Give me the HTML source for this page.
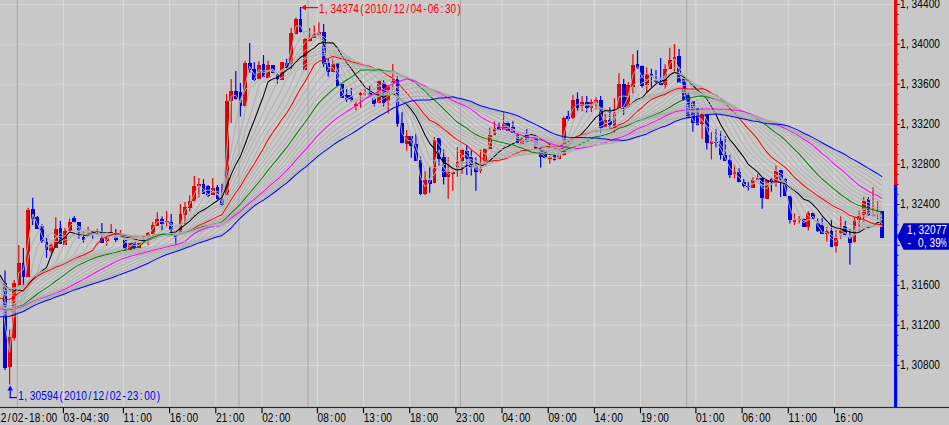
<!DOCTYPE html>
<html lang="en"><head><meta charset="utf-8"><title>EUR/USD 30m chart</title>
<style>html,body{margin:0;padding:0;background:#c8c8c8;overflow:hidden}svg{display:block}text{font-family:"Liberation Sans",sans-serif;font-size:13.3px}.g{stroke:#aeaeae;stroke-width:1;fill:none}.m{fill:none;stroke-width:1.02;stroke-linejoin:round}</style></head><body>
<svg width="949" height="425" viewBox="0 0 949 425">
<defs><linearGradient id="rg" x1="0" x2="1" y1="0" y2="0"><stop offset="0" stop-color="#ff0000"/><stop offset="0.45" stop-color="#f00000"/><stop offset="1" stop-color="#b00000"/></linearGradient><linearGradient id="bg" x1="0" x2="1" y1="0" y2="0"><stop offset="0" stop-color="#0000ff"/><stop offset="0.45" stop-color="#0000f0"/><stop offset="1" stop-color="#0000a8"/></linearGradient></defs>
<rect width="949" height="425" fill="#c8c8c8"/>
<g stroke="#d9d9d9" stroke-width="1.05">
<line x1="0" y1="4.4" x2="894" y2="4.4"/>
<line x1="0" y1="44.2" x2="894" y2="44.2"/>
<line x1="0" y1="84.2" x2="894" y2="84.2"/>
<line x1="0" y1="124.5" x2="894" y2="124.5"/>
<line x1="0" y1="164.3" x2="894" y2="164.3"/>
<line x1="0" y1="204.5" x2="894" y2="204.5"/>
<line x1="0" y1="245.3" x2="894" y2="245.3"/>
<line x1="0" y1="285.4" x2="894" y2="285.4"/>
<line x1="0" y1="325.3" x2="894" y2="325.3"/>
<line x1="0" y1="365.4" x2="894" y2="365.4"/>
<line x1="63.4" y1="0" x2="63.4" y2="407.4"/>
<line x1="123.4" y1="0" x2="123.4" y2="407.4"/>
<line x1="169.6" y1="0" x2="169.6" y2="407.4"/>
<line x1="215.8" y1="0" x2="215.8" y2="407.4"/>
<line x1="262" y1="0" x2="262" y2="407.4"/>
<line x1="317.4" y1="0" x2="317.4" y2="407.4"/>
<line x1="363.5" y1="0" x2="363.5" y2="407.4"/>
<line x1="409.7" y1="0" x2="409.7" y2="407.4"/>
<line x1="455.9" y1="0" x2="455.9" y2="407.4"/>
<line x1="502" y1="0" x2="502" y2="407.4"/>
<line x1="548.2" y1="0" x2="548.2" y2="407.4"/>
<line x1="594.4" y1="0" x2="594.4" y2="407.4"/>
<line x1="640.5" y1="0" x2="640.5" y2="407.4"/>
<line x1="695.9" y1="0" x2="695.9" y2="407.4"/>
<line x1="742.1" y1="0" x2="742.1" y2="407.4"/>
<line x1="788.3" y1="0" x2="788.3" y2="407.4"/>
<line x1="834.5" y1="0" x2="834.5" y2="407.4"/>
</g>
<g stroke="#a9a9a9" stroke-width="1.1">
<line x1="17.3" y1="0" x2="17.3" y2="407.4"/>
<line x1="238.9" y1="0" x2="238.9" y2="407.4"/>
<line x1="308.1" y1="0" x2="308.1" y2="407.4"/>
<line x1="460.5" y1="0" x2="460.5" y2="407.4"/>
<line x1="686.7" y1="0" x2="686.7" y2="407.4"/>
</g>
<path d="M9.6 329.4V384.6M14.2 280V340.7M18.8 245V286.3M28.1 207.7V276.8M51.2 243.3V253.6M55.8 217.2V247.5M65 228V244.5M69.6 218.5V231M88.1 226.8V236M97.3 228.7V234.4M106.6 237V245.8M111.2 224V234M120.4 230V235M129.6 243.2V250.4M138.9 242.3V248.3M143.5 238V243M148.1 232V244.9M152.7 222V234.4M157.3 212.2V225.5M166.6 210.9V226.8M180.4 203.9V232.5M185 202V224.2M189.7 195.2V211.5M194.3 176.1V201.4M198.9 178V197.5M212.7 178V195M226.6 94V195.2M231.2 79.1V123M245.1 60.7V106.4M258.9 61.3V78.5M268.1 60.7V77.8M282 62V79.8M291.2 28V69.6M295.9 17.8V34.3M305.1 38V70.2M309.7 28V41.3M314.3 25.4V38M318.9 22.2V35M332.8 58.8V71.5M355.9 101.4V110.3M360.5 92V107.8M365.1 89V95.4M379 80.6V102.7M388.2 84.8V113.5M392.8 63.9V90.3M406.7 130V150.8M425.1 171V195M434.4 137V183.3M448.2 157.2V198.7M452.8 172.4V190.7M457.4 147V176.8M462.1 149.5V173.7M480.5 149.5V173M485.1 148V165.4M489.8 127.8V148.8M494.4 121.4V134.8M503.6 112V129.7M522.1 138.6V143.7M531.3 139V142M549.8 156V163.8M559 154.5V158.7M563.6 116.4V155M572.9 94.8V118.9M582.1 96V111.3M591.3 99.2V112M596 97.3V109.4M605.2 114V126.7M614.4 98V132.6M619 73.2V108.8M628.3 82.1V106.8M632.9 54V93.5M646.7 67.4V92.9M665.2 64.2V89M669.8 47.7V69.3M674.4 43.9V71.2M702.1 107.4V139.3M711.4 132.3V159.6M734.5 164.5V178.5M752.9 177.2V188M757.6 174V179.8M766.8 180.4V198.7M776 165.2V186.8M794.5 213.4V224.9M799.1 216V223.6M808.3 210.9V230.6M826.8 226.8V241.5M836 229.9V252.6M840.7 216V238.8M854.5 217.2V242.4M859.1 210.2V232.5M863.7 196.9V222.3M873 187.3V216.6M877.6 201.3V219.8" stroke="#f00000" stroke-width="1.2" fill="none"/>
<path d="M5 270.4V370M23.4 248V285.7M32.7 197.8V224.9M37.3 216V229M41.9 224V243M46.5 238V257.7M60.4 221V244M74.2 216V222.3M78.9 222V238.8M83.5 231.2V242.6M92.7 231V238.8M101.9 223V243M115.8 229V242M125 239.8V250.8M134.3 242.3V249.5M162 216.6V230.5M171.2 214V233M175.8 235V244.8M203.5 179.3V194M208.1 185V197M217.4 185V199.4M222 183.8V205.8M235.8 70.9V99.4M240.4 82.9V116.6M249.7 42.9V72.8M254.3 62V81M263.5 55V76.6M272.8 65.1V72.8M277.4 74V83.6M286.6 58.8V68.3M300.5 7V32.4M323.6 24.1V67M328.2 58.8V76.6M337.4 63.2V85.5M342 84.2V97.6M346.6 89.3V102M351.3 88V101.4M369.7 86V95.7M374.3 97.6V106.5M383.6 80.2V106.5M397.4 76.4V126.8M402 112.2V143.2M411.3 136.4V157.8M415.9 133.8V161M420.5 156.5V194.9M429.7 167.3V192.8M439 138.3V165.4M443.6 149.5V184.6M466.7 145.7V175M471.3 150.2V175.6M475.9 157.2V190.7M499 122.7V130.3M508.2 121.4V131M512.9 120.8V132.9M517.5 132.9V143M526.7 129V142.4M535.9 137.3V148.1M540.6 148V167.6M545.2 150V158.3M554.4 155V160.4M568.3 110.7V120.8M577.5 92.2V110.7M586.7 96V112.6M600.6 96V132.6M609.8 107.2V128.8M623.7 78.9V115.1M637.5 50.2V68.7M642.1 65.5V87.7M651.4 68.7V87.2M656 70V83M660.6 57.9V84.6M679.1 49V82.6M683.7 78.2V100.4M688.3 92.2V118.2M692.9 101V131.7M697.5 108V125.3M706.8 113.8V149.5M716 129.2V147.6M720.6 131V159.6M725.2 136.1V160.8M729.8 155.2V177.9M739.1 168.3V182.3M743.7 179.1V187.4M748.3 181.7V190.6M762.2 177.9V208.7M771.4 177.9V191.8M780.6 170.2V196.9M785.3 178.5V196.3M789.9 196.3V223.6M803.7 218.5V226.8M813 212.8V219.1M817.6 218.5V232M822.2 217.9V233.5M831.4 219.8V246.5M845.3 221V235.3M849.9 228.7V264.8M868.4 196.9V216M882.2 210.9V237.7" stroke="#0000f0" stroke-width="1.2" fill="none"/>
<g fill="url(#rg)" shape-rendering="crispEdges"><rect x="7.7" y="337" width="3.8" height="29.5"/><rect x="12.3" y="283" width="3.8" height="55"/><rect x="16.9" y="262.8" width="3.8" height="22.2"/><rect x="26.2" y="210" width="3.8" height="66.8"/><rect x="49.3" y="245" width="3.8" height="6.4"/><rect x="53.9" y="229" width="3.8" height="18.5"/><rect x="63.1" y="231.2" width="3.8" height="13.3"/><rect x="67.7" y="221.7" width="3.8" height="8.9"/><rect x="86.2" y="233.8" width="3.8" height="1.9"/><rect x="95.4" y="232" width="3.8" height="2.4"/><rect x="104.7" y="238.2" width="3.8" height="3.2"/><rect x="109.3" y="231.8" width="3.8" height="2"/><rect x="118.5" y="233.1" width="3.8" height="1.9"/><rect x="127.7" y="243.2" width="3.8" height="7.2"/><rect x="137" y="242.8" width="3.8" height="5.5"/><rect x="141.6" y="239.5" width="3.8" height="1.5"/><rect x="146.2" y="232.6" width="3.8" height="3.1"/><rect x="150.8" y="225" width="3.8" height="9.4"/><rect x="155.4" y="218.5" width="3.8" height="7"/><rect x="164.7" y="221" width="3.8" height="1.5"/><rect x="178.5" y="214" width="3.8" height="18.5"/><rect x="183.1" y="207" width="3.8" height="7.7"/><rect x="187.8" y="201.4" width="3.8" height="6.3"/><rect x="192.4" y="186.3" width="3.8" height="15.1"/><rect x="197" y="184.4" width="3.8" height="1.6"/><rect x="210.8" y="187.6" width="3.8" height="7"/><rect x="224.7" y="100.7" width="3.8" height="94.5"/><rect x="229.3" y="91.2" width="3.8" height="9.8"/><rect x="243.2" y="63.2" width="3.8" height="43.2"/><rect x="257" y="65.1" width="3.8" height="13.4"/><rect x="266.2" y="65.1" width="3.8" height="12.7"/><rect x="280.1" y="62" width="3.8" height="17.8"/><rect x="289.3" y="33" width="3.8" height="30.9"/><rect x="294" y="19.1" width="3.8" height="15.2"/><rect x="303.2" y="39.4" width="3.8" height="30.8"/><rect x="307.8" y="38" width="3.8" height="3.3"/><rect x="312.4" y="33.7" width="3.8" height="4.3"/><rect x="317" y="32.4" width="3.8" height="2.6"/><rect x="330.9" y="63.9" width="3.8" height="7.6"/><rect x="354" y="104" width="3.8" height="2"/><rect x="358.6" y="93" width="3.8" height="2"/><rect x="363.2" y="93" width="3.8" height="1"/><rect x="377.1" y="80.6" width="3.8" height="22.1"/><rect x="386.3" y="84.8" width="3.8" height="16.6"/><rect x="390.9" y="80.6" width="3.8" height="2.1"/><rect x="404.8" y="136.4" width="3.8" height="7.4"/><rect x="423.2" y="180" width="3.8" height="13.6"/><rect x="432.5" y="140.2" width="3.8" height="43.1"/><rect x="446.3" y="171.8" width="3.8" height="4.7"/><rect x="450.9" y="172.4" width="3.8" height="1.6"/><rect x="455.5" y="161.6" width="3.8" height="5.7"/><rect x="460.2" y="150.2" width="3.8" height="10.8"/><rect x="478.6" y="168.6" width="3.8" height="2.5"/><rect x="483.2" y="148.9" width="3.8" height="16.5"/><rect x="487.9" y="135.4" width="3.8" height="13.4"/><rect x="492.5" y="128.4" width="3.8" height="6.4"/><rect x="501.7" y="122.7" width="3.8" height="7"/><rect x="520.2" y="138.6" width="3.8" height="5.1"/><rect x="529.4" y="140" width="3.8" height="1.5"/><rect x="547.9" y="156.5" width="3.8" height="2"/><rect x="557.1" y="155" width="3.8" height="3.7"/><rect x="561.7" y="117.6" width="3.8" height="37.4"/><rect x="571" y="99.9" width="3.8" height="18.4"/><rect x="580.2" y="101.8" width="3.8" height="4.2"/><rect x="589.4" y="101.8" width="3.8" height="6.2"/><rect x="594.1" y="99.9" width="3.8" height="3.1"/><rect x="603.3" y="119.9" width="3.8" height="6.8"/><rect x="612.5" y="109.4" width="3.8" height="18.1"/><rect x="617.1" y="84" width="3.8" height="24.8"/><rect x="626.4" y="85.2" width="3.8" height="21.6"/><rect x="631" y="64.9" width="3.8" height="21.6"/><rect x="644.8" y="74.4" width="3.8" height="10.8"/><rect x="663.3" y="68.7" width="3.8" height="16.5"/><rect x="667.9" y="59.8" width="3.8" height="9.5"/><rect x="672.5" y="57.2" width="3.8" height="2.6"/><rect x="700.2" y="113.8" width="3.8" height="9.9"/><rect x="709.5" y="141.2" width="3.8" height="3.2"/><rect x="732.6" y="172.2" width="3.8" height="1.8"/><rect x="751" y="180.4" width="3.8" height="7.6"/><rect x="755.7" y="177.9" width="3.8" height="1.9"/><rect x="764.9" y="180.4" width="3.8" height="18.3"/><rect x="774.1" y="170.9" width="3.8" height="10.1"/><rect x="792.6" y="219.8" width="3.8" height="1.9"/><rect x="797.2" y="218.5" width="3.8" height="1"/><rect x="806.4" y="213.4" width="3.8" height="13.4"/><rect x="824.9" y="231.2" width="3.8" height="3.2"/><rect x="834.1" y="237.5" width="3.8" height="8"/><rect x="838.8" y="229.9" width="3.8" height="3.2"/><rect x="852.6" y="220.4" width="3.8" height="22"/><rect x="857.2" y="216" width="3.8" height="4.4"/><rect x="861.8" y="200.7" width="3.8" height="14"/><rect x="871.1" y="215" width="3.8" height="1.3"/><rect x="875.7" y="210.9" width="3.8" height="1.1"/></g>
<g fill="url(#bg)" shape-rendering="crispEdges"><rect x="3.1" y="283" width="3.8" height="85"/><rect x="21.5" y="262.8" width="3.8" height="14"/><rect x="30.8" y="209" width="3.8" height="9.5"/><rect x="35.4" y="216.6" width="3.8" height="12.1"/><rect x="40" y="226" width="3.8" height="15.4"/><rect x="44.6" y="242" width="3.8" height="8"/><rect x="58.5" y="228" width="3.8" height="16"/><rect x="72.3" y="217.9" width="3.8" height="4.4"/><rect x="77" y="222" width="3.8" height="9.2"/><rect x="81.6" y="237" width="3.8" height="2.5"/><rect x="90.8" y="231.2" width="3.8" height="1.9"/><rect x="100" y="238" width="3.8" height="4.6"/><rect x="113.9" y="232.5" width="3.8" height="7"/><rect x="123.1" y="239.8" width="3.8" height="8.9"/><rect x="132.4" y="242.3" width="3.8" height="5.5"/><rect x="160.1" y="218.5" width="3.8" height="5.5"/><rect x="169.3" y="222.3" width="3.8" height="8"/><rect x="173.9" y="235.5" width="3.8" height="1.8"/><rect x="201.6" y="184.4" width="3.8" height="9.5"/><rect x="206.2" y="185.7" width="3.8" height="10.1"/><rect x="215.5" y="186.9" width="3.8" height="12.5"/><rect x="220.1" y="199" width="3.8" height="6"/><rect x="233.9" y="91.2" width="3.8" height="8.2"/><rect x="238.5" y="91.8" width="3.8" height="14.6"/><rect x="247.8" y="63.2" width="3.8" height="6.4"/><rect x="252.4" y="69" width="3.8" height="10.8"/><rect x="261.6" y="63.9" width="3.8" height="12.7"/><rect x="270.9" y="65.1" width="3.8" height="7.7"/><rect x="275.5" y="74" width="3.8" height="5.1"/><rect x="284.7" y="62.6" width="3.8" height="5.7"/><rect x="298.6" y="19.1" width="3.8" height="13.3"/><rect x="321.7" y="31.8" width="3.8" height="31.7"/><rect x="326.3" y="62.6" width="3.8" height="8.9"/><rect x="335.5" y="63.2" width="3.8" height="22.3"/><rect x="340.1" y="84.2" width="3.8" height="13.4"/><rect x="344.7" y="95" width="3.8" height="5"/><rect x="349.4" y="95" width="3.8" height="5"/><rect x="367.8" y="92.5" width="3.8" height="2.5"/><rect x="372.4" y="98" width="3.8" height="6"/><rect x="381.7" y="82.7" width="3.8" height="20.3"/><rect x="395.5" y="79.3" width="3.8" height="44.4"/><rect x="400.1" y="123" width="3.8" height="20.2"/><rect x="409.4" y="136.4" width="3.8" height="9.3"/><rect x="414" y="143.8" width="3.8" height="17.2"/><rect x="418.6" y="160.3" width="3.8" height="33.3"/><rect x="427.8" y="180" width="3.8" height="4.4"/><rect x="437.1" y="138.3" width="3.8" height="20.7"/><rect x="441.7" y="156.5" width="3.8" height="20.2"/><rect x="464.8" y="150.8" width="3.8" height="8.2"/><rect x="469.4" y="156.5" width="3.8" height="10.8"/><rect x="474" y="166" width="3.8" height="5.8"/><rect x="497.1" y="126.5" width="3.8" height="3.8"/><rect x="506.3" y="122.7" width="3.8" height="8.3"/><rect x="511" y="126.5" width="3.8" height="6.4"/><rect x="515.6" y="132.9" width="3.8" height="10.1"/><rect x="524.8" y="134.8" width="3.8" height="7.6"/><rect x="534" y="137.3" width="3.8" height="10.8"/><rect x="538.7" y="148" width="3.8" height="8.6"/><rect x="543.3" y="150" width="3.8" height="8.3"/><rect x="552.5" y="155.3" width="3.8" height="5.1"/><rect x="566.4" y="115.7" width="3.8" height="3.2"/><rect x="575.6" y="99.2" width="3.8" height="8.9"/><rect x="584.8" y="101.8" width="3.8" height="6.3"/><rect x="598.7" y="99.9" width="3.8" height="27.6"/><rect x="607.9" y="119.9" width="3.8" height="4.7"/><rect x="621.8" y="84" width="3.8" height="24.1"/><rect x="635.6" y="64.2" width="3.8" height="4.5"/><rect x="640.2" y="65.5" width="3.8" height="20.3"/><rect x="649.5" y="73.8" width="3.8" height="3.1"/><rect x="654.1" y="80" width="3.8" height="2"/><rect x="658.7" y="82.6" width="3.8" height="2"/><rect x="677.2" y="56" width="3.8" height="26.6"/><rect x="681.8" y="78.8" width="3.8" height="21.6"/><rect x="686.4" y="94" width="3.8" height="24.2"/><rect x="691" y="101" width="3.8" height="21.8"/><rect x="695.6" y="108" width="3.8" height="17.3"/><rect x="704.9" y="113.8" width="3.8" height="28.7"/><rect x="714.1" y="141.5" width="3.8" height="1"/><rect x="718.7" y="141.2" width="3.8" height="14"/><rect x="723.3" y="154.6" width="3.8" height="6.2"/><rect x="727.9" y="159.5" width="3.8" height="15.2"/><rect x="737.2" y="172.2" width="3.8" height="10.1"/><rect x="741.8" y="182.3" width="3.8" height="3.2"/><rect x="746.4" y="185.5" width="3.8" height="1.9"/><rect x="760.3" y="177.9" width="3.8" height="19.8"/><rect x="769.5" y="179.1" width="3.8" height="2.6"/><rect x="778.7" y="170.2" width="3.8" height="9.6"/><rect x="783.4" y="178.5" width="3.8" height="17.8"/><rect x="788" y="196.3" width="3.8" height="23.5"/><rect x="801.8" y="218.5" width="3.8" height="8.3"/><rect x="811.1" y="212.8" width="3.8" height="6.3"/><rect x="815.7" y="223" width="3.8" height="8"/><rect x="820.3" y="224.9" width="3.8" height="8.6"/><rect x="829.5" y="230.6" width="3.8" height="15.9"/><rect x="843.4" y="226.1" width="3.8" height="9.2"/><rect x="848" y="235.8" width="3.8" height="6.7"/><rect x="866.5" y="198.8" width="3.8" height="17.2"/><rect x="880.3" y="210.9" width="3.8" height="26.8"/></g>
<path class="g" d="M-4.3 277.4L0.4 280.1L5 324.7L9.6 352.5L14.2 310L18.8 272.9L23.4 269.8L28.1 243.4L32.7 214.2L37.3 223.6L41.9 235.1L46.5 245.7L51.2 247.5L55.8 237L60.4 236.5L65 237.6L69.6 226.5L74.2 222L78.9 226.8L83.5 235.4L88.1 236.6L92.7 233.4L97.3 232.5L101.9 237.3L106.6 240.4L111.2 235L115.8 235.6L120.4 236.3L125 240.9L129.6 246L134.3 245.5L138.9 245.3L143.5 241.1L148.1 236L152.7 228.8L157.3 221.8L162 221.2L166.6 222.5L171.2 225.6L175.8 233.8L180.4 225.6L185 210.5L189.7 204.2L194.3 193.9L198.9 185.4L203.5 189.2L208.1 194.9L212.7 191.7L217.4 193.5L222 202.2L226.6 152.9L231.2 96L235.8 95.3L240.4 102.9L245.1 84.8L249.7 66.4L254.3 74.7L258.9 72.4L263.5 70.8L268.1 70.8L272.8 68.9L277.4 75.9L282 70.5L286.6 65.1L291.2 50.6L295.9 26L300.5 25.8L305.1 35.9L309.7 38.7L314.3 35.9L318.9 33.1L323.6 48L328.2 67.5L332.8 67.7L337.4 74.7L342 91.5L346.6 98.8L351.3 100L355.9 102L360.5 98.5L365.1 93L369.7 94L374.3 99.5L379 92.3L383.6 91.8L388.2 93.9L392.8 82.7L397.4 102.1L402 133.5L406.7 139.8L411.3 141.1L415.9 153.4L420.5 177.3L425.1 186.8L429.7 182.2L434.4 162.3L439 149.6L443.6 167.8L448.2 174.2L452.8 172.1L457.4 167L462.1 155.9L466.7 154.6L471.3 163.2L475.9 169.6L480.5 170.2L485.1 158.8L489.8 142.2L494.4 131.9L499 129.4L503.6 126.5L508.2 126.8L512.9 132L517.5 138L522.1 140.8L526.7 140.5L531.3 141.2L535.9 144L540.6 152.3L545.2 157.5L549.8 157.4L554.4 158.5L559 157.7L563.6 136.3L568.3 118.2L572.9 109.4L577.5 104L582.1 105L586.7 105L591.3 105L596 100.9L600.6 113.7L605.2 123.7L609.8 122.2L614.4 117L619 96.7L623.7 96L628.3 96.6L632.9 75L637.5 66.8L642.1 77.2L646.7 80.1L651.4 75.7L656 79.5L660.6 83.3L665.2 76.6L669.8 64.2L674.4 58.5L679.1 69.9L683.7 91.5L688.3 109.3L692.9 120.5L697.5 124.1L702.1 119.6L706.8 128.2L711.4 141.8L716 141.8L720.6 148.8L725.2 158L729.8 167.8L734.5 173.4L739.1 177.2L743.7 183.9L748.3 186.5L752.9 183.9L757.6 179.2L762.2 187.8L766.8 189L771.4 181L776 176.3L780.6 175.4L785.3 188.1L789.9 208.1L794.5 219.8L799.1 219.2L803.7 222.7L808.3 220.1L813 216.2L817.6 225L822.2 232.2L826.8 232.3L831.4 238.8L836 242L840.7 233.7L845.3 232.6L849.9 238.9L854.5 231.5L859.1 218.2L863.7 208.3L868.4 208.3L873 215.5L877.6 213L882.2 224.3"/>
<path class="g" d="M-4.3 274.6L0.4 277.3L5 301.1L9.6 316.3L14.2 317.4L18.8 312.7L23.4 289.9L28.1 258.1L32.7 242L37.3 233.5L41.9 224.7L46.5 234.7L51.2 241.3L55.8 241.4L60.4 242L65 237.3L69.6 231.5L74.2 229.8L78.9 226.6L83.5 228.7L88.1 231.7L92.7 234.4L97.3 234.6L101.9 235.4L106.6 236.5L111.2 236.1L115.8 238L120.4 235.6L125 238.3L129.6 241.1L134.3 243.2L138.9 245.6L143.5 243.3L148.1 240.7L152.7 235L157.3 228.9L162 225L166.6 222.1L171.2 223.4L175.8 228.1L180.4 225.6L185 222.1L189.7 214.9L194.3 202.2L198.9 194.8L203.5 191.5L208.1 190.1L212.7 190.4L217.4 194.2L222 196.9L226.6 173.2L231.2 149.1L235.8 124.1L240.4 99.4L245.1 90.1L249.7 84.7L254.3 79.8L258.9 69.4L263.5 72.8L268.1 71.6L272.8 69.9L277.4 73.4L282 69.7L286.6 70.5L291.2 60.6L295.9 45.6L300.5 38.2L305.1 31L309.7 32.2L314.3 35.9L318.9 35.9L323.6 41.9L328.2 50.3L332.8 57.8L337.4 71.1L342 79.6L346.6 86.8L351.3 95.8L355.9 100.4L360.5 99.2L365.1 97.5L369.7 96.2L374.3 96.2L379 93.1L383.6 95.6L388.2 93.1L392.8 87.2L397.4 98L402 108.1L406.7 121L411.3 137.3L415.9 146.6L420.5 159.2L425.1 170.1L429.7 179.8L434.4 174.5L439 165.9L443.6 165.1L448.2 161.9L452.8 170L457.4 170.6L462.1 164L466.7 160.8L471.3 159.5L475.9 162.1L480.5 166.7L485.1 164.2L489.8 156.2L494.4 145.3L499 135.8L503.6 129.2L508.2 128.1L512.9 129.2L517.5 132.4L522.1 136.4L526.7 139.2L531.3 141L535.9 142.3L540.6 146.8L545.2 150.8L549.8 154.9L554.4 158L559 157.6L563.6 147.4L568.3 138L572.9 122.9L577.5 111.1L582.1 107.2L586.7 104.5L591.3 105L596 102.9L600.6 109.3L605.2 112.3L609.8 118L614.4 120.4L619 109.5L623.7 106.5L628.3 96.7L632.9 85.5L637.5 81.7L642.1 76.1L646.7 73.5L651.4 76.5L656 79.8L660.6 79.5L665.2 78L669.8 73.8L674.4 67.6L679.1 67.1L683.7 75L688.3 89.6L692.9 106L697.5 116.7L702.1 120L706.8 126.1L711.4 130.7L716 135L720.6 145.3L725.2 149.9L729.8 158.3L734.5 165.7L739.1 172.5L743.7 178.7L748.3 181.9L752.9 183.9L757.6 182.8L762.2 185.9L766.8 184.1L771.4 184.4L776 182.7L780.6 178.2L785.3 182.2L789.9 191.7L794.5 203.9L799.1 213.6L803.7 221.2L808.3 219.6L813 219.5L817.6 222.6L822.2 224.2L826.8 228.7L831.4 235.5L836 237.2L840.7 236.3L845.3 237.3L849.9 236.3L854.5 232L859.1 228.6L863.7 219.9L868.4 213.3L873 211.9L877.6 210.6L882.2 219.9"/>
<path class="g" d="M-4.3 273L0.4 274.9L5 291.3L9.6 302.4L14.2 304L18.8 301.8L23.4 301.5L28.1 289.6L32.7 264.7L37.3 246.6L41.9 239.7L46.5 237.6L51.2 232.3L55.8 235.4L60.4 239.7L65 240.1L69.6 236.8L74.2 232.2L78.9 229.9L83.5 231.7L88.1 230L92.7 230.3L97.3 232L101.9 235.4L106.6 236.5L111.2 235.2L115.8 236.2L120.4 236.2L125 239L129.6 239.1L134.3 240.7L138.9 242.5L143.5 242.5L148.1 242.4L152.7 238.5L157.3 234.4L162 230.4L166.6 226.8L171.2 225.2L175.8 226L180.4 224.2L185 222.3L189.7 218.5L194.3 212.7L198.9 205.1L203.5 197.8L208.1 194.8L212.7 191.6L217.4 191.2L222 194.4L226.6 180.4L231.2 163.3L235.8 147.2L240.4 133.7L245.1 111L249.7 88.4L254.3 84.9L258.9 80.6L263.5 76.8L268.1 69.9L272.8 71.5L277.4 73.1L282 70.1L286.6 70.6L291.2 63.4L295.9 55.7L300.5 49L305.1 42.4L309.7 38.4L314.3 32.6L318.9 32.5L323.6 39.9L328.2 46.4L332.8 50.5L337.4 58.4L342 69.1L346.6 80.3L351.3 86.4L355.9 91.8L360.5 96.7L365.1 97.9L369.7 97.5L374.3 98.2L379 94.9L383.6 94.8L388.2 93.4L392.8 91.3L397.4 96.1L402 102.6L406.7 112L411.3 119.1L415.9 131.8L420.5 150.6L425.1 160L429.7 166.9L434.4 167.5L439 169.7L443.6 172.3L448.2 168.7L452.8 167.4L457.4 163.6L462.1 165.3L466.7 165.3L471.3 163.7L475.9 163.7L480.5 163.1L485.1 161L489.8 158.5L494.4 153.4L499 147.2L503.6 139.1L508.2 132.8L512.9 130.1L517.5 131.4L522.1 133.1L526.7 135.1L531.3 138L535.9 140.8L540.6 144.8L545.2 147.3L549.8 150.3L554.4 153.3L559 155.8L563.6 150.7L568.3 144.5L572.9 134.7L577.5 126.7L582.1 116.9L586.7 109.1L591.3 106.4L596 103.3L600.6 107.9L605.2 109.8L609.8 113.6L614.4 113.9L619 110.9L623.7 112.2L628.3 105.2L632.9 96L637.5 86.7L642.1 82.8L646.7 81.2L651.4 76L656 75.5L660.6 78.7L665.2 78.7L669.8 74.4L674.4 71.5L679.1 72.5L683.7 75.5L688.3 81.1L692.9 90.2L697.5 101.1L702.1 110.5L706.8 120.5L711.4 127.3L716 131.4L720.6 136.8L725.2 142.7L729.8 152.8L734.5 157.8L739.1 164.6L743.7 171.8L748.3 177.2L752.9 180.4L757.6 181L762.2 185.2L766.8 184.9L771.4 184.2L776 181.5L780.6 181.4L785.3 184.5L789.9 188.2L794.5 194.7L799.1 200.9L803.7 210.2L808.3 215.8L813 219.6L817.6 221.4L822.2 223.7L826.8 225.8L831.4 229.1L836 233.1L840.7 234.9L845.3 235.7L849.9 237.2L854.5 235.4L859.1 230.3L863.7 224.1L868.4 221.8L873 218.4L877.6 213.2L882.2 216"/>
<path class="g" d="M-4.3 273.7L0.4 274.1L5 285.9L9.6 294.3L14.2 296L18.8 295L23.4 295.5L28.1 287.2L32.7 279.7L37.3 273.1L41.9 257.3L46.5 246.4L51.2 241.7L55.8 237.4L60.4 233.3L65 236L69.6 236.4L74.2 235.6L78.9 234.3L83.5 233L88.1 231.6L92.7 232.1L97.3 230.6L101.9 232L106.6 234.1L111.2 235.3L115.8 236.3L120.4 235.5L125 237.4L129.6 238.6L134.3 240.6L138.9 240.6L143.5 240.8L148.1 240.9L152.7 239.1L157.3 237.3L162 234.2L166.6 231.4L171.2 229.2L175.8 228.5L180.4 225.3L185 222.1L189.7 219.2L194.3 215.2L198.9 210.2L203.5 206.8L208.1 202.5L212.7 196.3L217.4 194.5L222 194.2L226.6 181.6L231.2 169.8L235.8 159.1L240.4 148.2L245.1 131.6L249.7 116.9L254.3 101.9L258.9 84.4L263.5 81.4L268.1 78.1L272.8 74.8L277.4 71.4L282 71.3L286.6 71.1L291.2 65.2L295.9 59.5L300.5 54L305.1 50.8L309.7 46.4L314.3 40.7L318.9 37L323.6 36.4L328.2 41.3L332.8 46.9L337.4 53.5L342 60.8L346.6 68.5L351.3 76.8L355.9 85.8L360.5 89.4L365.1 92.1L369.7 96L374.3 98.3L379 96.2L383.6 96.6L388.2 94.7L392.8 91.7L397.4 95.6L402 101.9L406.7 107L411.3 112.2L415.9 122.3L420.5 133.6L425.1 145.5L429.7 158.5L434.4 160.6L439 162.5L443.6 167.6L448.2 170.8L452.8 172.3L457.4 168.3L462.1 164.5L466.7 161.4L471.3 164.8L475.9 166.4L480.5 165.3L485.1 162.5L489.8 157.9L494.4 153.7L499 151.2L503.6 146.7L508.2 142.1L512.9 137.3L517.5 134.1L522.1 132.8L526.7 133.7L531.3 135.1L535.9 137.3L540.6 141.6L545.2 145L549.8 147.9L554.4 150.1L559 152.2L563.6 149.1L568.3 146.4L572.9 140.4L577.5 134.3L582.1 127.3L586.7 121.2L591.3 113.9L596 107L600.6 108.3L605.2 108.4L609.8 111.5L614.4 111.6L619 109.4L623.7 109.4L628.3 107.3L632.9 102.9L637.5 95.6L642.1 91.3L646.7 85.1L651.4 81L656 80.8L660.6 77.8L665.2 75.8L669.8 75.1L674.4 73.7L679.1 73.3L683.7 76.5L688.3 81.7L692.9 86.8L697.5 91.9L702.1 97.5L706.8 107.9L711.4 118.4L716 125.8L720.6 132.7L725.2 138L729.8 144.5L734.5 150.4L739.1 158.9L743.7 164.3L748.3 170.1L752.9 174.8L757.6 177.7L762.2 182.3L766.8 183L771.4 184.2L776 182.7L780.6 182L785.3 183.1L789.9 188.1L794.5 193.3L799.1 195.9L803.7 201.7L808.3 205.7L813 211.7L817.6 218.1L822.2 222.7L826.8 224.2L831.4 227.5L836 229.9L840.7 230.3L845.3 233L849.9 235.9L854.5 234.6L859.1 232.4L863.7 228.6L868.4 224.8L873 222L877.6 219.6L882.2 219.9"/>
<path class="m" stroke="#000000" d="M-4.3 276.3L0.4 275.4L5 283.9L9.6 289.8L14.2 290.7L18.8 290L23.4 290.7L28.1 284.7L32.7 279.2L37.3 274.5L41.9 270.8L46.5 267.6L51.2 255.3L55.8 244.5L60.4 240.6L65 237.5L69.6 232L74.2 233.2L78.9 234.5L83.5 235.5L88.1 234.8L92.7 233.1L97.3 231.8L101.9 233.1L106.6 232.6L111.2 232.6L115.8 234.4L120.4 235.5L125 237.2L129.6 237.6L134.3 239L138.9 240L143.5 240.7L148.1 239.7L152.7 238.4L157.3 237.1L162 235.5L166.6 234.3L171.2 232.5L175.8 231.9L180.4 228.5L185 224.9L189.7 221.1L194.3 216.5L198.9 212.4L203.5 210L208.1 207.1L212.7 203.8L217.4 200.7L222 197.5L226.6 186.2L231.2 174.6L235.8 164.4L240.4 156.4L245.1 144.3L249.7 131.8L254.3 120.2L258.9 108L263.5 95.7L268.1 81.7L272.8 78.9L277.4 77.7L282 74L286.6 70.2L291.2 67.1L295.9 62.1L300.5 57.3L305.1 54.8L309.7 50.9L314.3 47.8L318.9 43.7L323.6 42.2L328.2 43.1L332.8 42.7L337.4 47.9L342 55.8L346.6 62.6L351.3 68.6L355.9 75.2L360.5 81.1L365.1 87.2L369.7 90.3L374.3 93.6L379 95.3L383.6 97L388.2 95.7L392.8 93.8L397.4 96.2L402 100.1L406.7 104.4L411.3 109.7L415.9 116.3L420.5 125.3L425.1 135.2L429.7 143.3L434.4 148.9L439 156.7L443.6 162L448.2 164.9L452.8 168.5L457.4 170.1L462.1 169L466.7 165.5L471.3 164.3L475.9 163L480.5 165.8L485.1 164.8L489.8 160.7L494.4 156.4L499 152.2L503.6 148.3L508.2 146.3L512.9 143.7L517.5 141.3L522.1 138L526.7 135.4L531.3 134.5L535.9 135.7L540.6 138.6L545.2 141.4L549.8 144.7L554.4 147.7L559 149.9L563.6 147.3L568.3 145.4L572.9 141.1L577.5 137.9L582.1 133.3L586.7 128.5L591.3 122.8L596 117.2L600.6 113.9L605.2 110.4L609.8 111.1L614.4 110.1L619 108.5L623.7 108.5L628.3 106.8L632.9 102.5L637.5 99.2L642.1 97.8L646.7 92.5L651.4 88.2L656 83.9L660.6 81.5L665.2 79.9L669.8 75.1L674.4 72.3L679.1 74.1L683.7 77.2L688.3 80.5L692.9 85.3L697.5 90.2L702.1 93.3L706.8 99.1L711.4 106.4L716 114.7L720.6 124.5L725.2 132.3L729.8 139.7L734.5 145.1L739.1 151.1L743.7 157.1L748.3 164.4L752.9 168.2L757.6 171.9L762.2 177.4L766.8 179.9L771.4 182L776 181.6L780.6 182.4L785.3 183.8L789.9 187.2L794.5 190.5L799.1 194.3L803.7 199.2L808.3 200.7L813 204.6L817.6 209.5L822.2 215.8L826.8 220.9L831.4 226L836 227.7L840.7 228.7L845.3 230.4L849.9 232L854.5 232.7L859.1 232.4L863.7 229.3L868.4 227.6L873 226L877.6 222.4L882.2 222.4"/>
<path class="g" d="M-4.3 280.4L0.4 278.5L5 284.4L9.6 288.3L14.2 288.2L18.8 287L23.4 287.3L28.1 282.2L32.7 278L37.3 274.5L41.9 271.9L46.5 269.7L51.2 266.9L55.8 262.5L60.4 252.2L65 243.4L69.6 238.3L74.2 234.9L78.9 231.1L83.5 233.5L88.1 234.8L92.7 235.2L97.3 234.4L101.9 233.8L106.6 233.2L111.2 233.4L115.8 233.1L120.4 233.2L125 235.5L129.6 237.2L134.3 238.6L138.9 238.9L143.5 239.4L148.1 239.3L152.7 238.7L157.3 236.7L162 235.5L166.6 234.6L171.2 233.9L175.8 234.2L180.4 231.3L185 228.3L189.7 224.4L194.3 219.7L198.9 215.1L203.5 211.9L208.1 209.5L212.7 206.9L217.4 204.9L222 203.5L226.6 192.7L231.2 180.6L235.8 171L240.4 162.6L245.1 151.1L249.7 141.4L254.3 132.7L258.9 121.9L263.5 112L268.1 101.8L272.8 91.2L277.4 80.7L282 77.5L286.6 75.6L291.2 70.1L295.9 62.8L300.5 60.2L305.1 57.7L309.7 54.2L314.3 51.6L318.9 47.9L323.6 47.8L328.2 47.7L332.8 46.4L337.4 48.4L342 50.8L346.6 56.4L351.3 63.2L355.9 69.1L360.5 73.6L365.1 78.2L369.7 83.3L374.3 89.2L379 90.7L383.6 93.3L388.2 95L392.8 94.6L397.4 96.8L402 100.4L406.7 103.4L411.3 106.9L415.9 112.6L420.5 121L425.1 128L429.7 134.8L434.4 139.7L439 144.4L443.6 152L448.2 159.6L452.8 163.7L457.4 165.2L462.1 166.4L466.7 167.5L471.3 168L475.9 166.2L480.5 165.2L485.1 162.3L489.8 161.9L494.4 159.3L499 155.5L503.6 151.4L508.2 147.9L512.9 145.5L517.5 144.9L522.1 143.2L526.7 141.2L531.3 138.5L535.9 136.8L540.6 137.5L545.2 139.4L549.8 141.7L554.4 144.2L559 146.9L563.6 145.8L568.3 144.6L572.9 141L577.5 138.5L582.1 135.1L586.7 132.4L591.3 128.6L596 123.9L600.6 121.3L605.2 118.2L609.8 115.3L614.4 111.5L619 108.7L623.7 107.8L628.3 106.5L632.9 102.9L637.5 100.2L642.1 98.3L646.7 96L651.4 94.1L656 90.3L660.6 87.4L665.2 82.7L669.8 78.6L674.4 76.4L679.1 74.2L683.7 75.5L688.3 79.9L692.9 84.5L697.5 87.7L702.1 91L706.8 96.5L711.4 101.4L716 106.2L720.6 113.5L725.2 121.9L729.8 131.7L734.5 139.1L739.1 146L743.7 151.6L748.3 157L752.9 161.5L757.6 166.9L762.2 171.5L766.8 174.8L771.4 178L776 179.3L780.6 180.9L785.3 182.7L789.9 186.7L794.5 189.8L799.1 192.6L803.7 195.8L808.3 198.6L813 202L817.6 204.8L822.2 209.2L826.8 213.3L831.4 219.6L836 224.5L840.7 227.3L845.3 228.5L849.9 230.4L854.5 230.6L859.1 229.7L863.7 228.6L868.4 228.4L873 227L877.6 225.2L882.2 225.7"/>
<path class="g" d="M-4.3 285.6L0.4 282.8L5 286.7L9.6 289L14.2 288L18.8 286.1L23.4 285.6L28.1 280.7L32.7 276.8L37.3 273.9L41.9 271.9L46.5 270.4L51.2 268.4L55.8 265L60.4 262.5L65 259L69.6 248.5L74.2 240.3L78.9 236.6L83.5 235L88.1 231.9L92.7 233.5L97.3 234.5L101.9 235.5L106.6 235.3L111.2 234L115.8 233.6L120.4 233.9L125 234.2L129.6 235L134.3 236.9L138.9 238.4L143.5 239L148.1 238.5L152.7 237.8L157.3 236.8L162 236.2L166.6 234.7L171.2 234.1L175.8 234.5L180.4 232.7L185 230.8L189.7 227.5L194.3 223.4L198.9 218.9L203.5 215.4L208.1 212.2L212.7 209L217.4 207.2L222 206.2L226.6 197.4L231.2 188.2L235.8 178.8L240.4 169.5L245.1 158.7L249.7 148.9L254.3 140.2L258.9 131.5L263.5 123.8L268.1 114.6L272.8 105.8L277.4 98.1L282 88.3L286.6 78.5L291.2 73.7L295.9 68.5L300.5 63.7L305.1 59L309.7 57.2L314.3 54.6L318.9 51.2L323.6 51.1L328.2 50.7L332.8 50.7L337.4 51.6L342 52.9L346.6 55.6L351.3 57.9L355.9 62.9L360.5 68.2L365.1 72.5L369.7 76.5L374.3 81.2L379 84.6L383.6 89.6L388.2 91.1L392.8 91.8L397.4 96.1L402 100.2L406.7 102.9L411.3 106.2L415.9 110.6L420.5 117L425.1 123.2L429.7 129.7L434.4 132.9L439 136.9L443.6 143.7L448.2 148.6L452.8 154.9L457.4 160.7L462.1 162.6L466.7 163.7L471.3 165.9L475.9 167.8L480.5 168.3L485.1 165.1L489.8 162L494.4 158L499 157.2L503.6 154.7L508.2 151.4L512.9 148.6L517.5 146.5L522.1 144.9L526.7 144.3L531.3 143L535.9 141.6L540.6 140.5L545.2 139.8L549.8 140.3L554.4 142.1L559 144L563.6 143.1L568.3 142.8L572.9 140.6L577.5 138.8L582.1 135.9L586.7 133.7L591.3 130.8L596 127.9L600.6 126.5L605.2 123.8L609.8 121.4L614.4 118.1L619 112.6L623.7 109.3L628.3 106.9L632.9 103.1L637.5 100.9L642.1 99.3L646.7 97.3L651.4 95.1L656 93.7L660.6 92.6L665.2 88.4L669.8 84.1L674.4 79.3L679.1 77.3L683.7 78.5L688.3 79.2L692.9 81.9L697.5 86.2L702.1 89.5L706.8 93.5L711.4 98.3L716 103L720.6 108.2L725.2 113.6L729.8 121.2L734.5 129.2L739.1 138.2L743.7 145.5L748.3 151.7L752.9 156.2L757.6 160.1L762.2 165.3L766.8 170L771.4 172.8L776 175L780.6 177.6L785.3 180.6L789.9 184.8L794.5 188L799.1 191.3L803.7 194.5L808.3 196.5L813 198.8L817.6 202.4L822.2 206.3L826.8 208.7L831.4 213.5L836 217.4L840.7 221.7L845.3 225.6L849.9 228.9L854.5 229L859.1 228.7L863.7 227.4L868.4 226.6L873 226.8L877.6 226.2L882.2 226.6"/>
<path class="g" d="M-4.3 291.2L0.4 288L5 290.5L9.6 291.5L14.2 289.6L18.8 287L23.4 285.7L28.1 280.7L32.7 276.7L37.3 273.6L41.9 271.6L46.5 270.3L51.2 268.8L55.8 266.2L60.4 264.4L65 261.6L69.6 258L74.2 254.3L78.9 245.8L83.5 239.7L88.1 236.6L92.7 234.8L97.3 232L101.9 234L106.6 235.2L111.2 235.4L115.8 235.3L120.4 234.2L125 234.5L129.6 235.4L134.3 235.6L138.9 236.3L143.5 237.4L148.1 238.1L152.7 237.7L157.3 236.4L162 235.8L166.6 235L171.2 234.9L175.8 234.6L180.4 233.1L185 231.5L189.7 229.1L194.3 226.2L198.9 222.2L203.5 219.1L208.1 215.9L212.7 212.4L217.4 209.9L222 208.2L226.6 200.4L231.2 192.5L235.8 184.7L240.4 177.5L245.1 167.1L249.7 156.6L254.3 148.2L258.9 139.3L263.5 131.5L268.1 124L272.8 117L277.4 109.8L282 101.4L286.6 94L291.2 83.6L295.9 72L300.5 67.7L305.1 64.5L309.7 60.6L314.3 56.1L318.9 54.1L323.6 53.8L328.2 53.2L332.8 53.2L337.4 53.7L342 55.8L346.6 57.5L351.3 58.8L355.9 61.4L360.5 62.9L365.1 66.7L369.7 71.4L374.3 75.9L379 78.5L383.6 82.5L388.2 85.7L392.8 88.7L397.4 92.5L402 97L406.7 101.5L411.3 105.3L415.9 109.2L420.5 115.1L425.1 120.1L429.7 125.1L434.4 128.1L439 132.2L443.6 137.3L448.2 141.5L452.8 147.3L457.4 150.9L462.1 155L466.7 159.9L471.3 162.7L475.9 164.4L480.5 166.5L485.1 166.7L489.8 165.1L494.4 161L499 157.9L503.6 154L508.2 153.4L512.9 151.8L517.5 149.7L522.1 147.6L526.7 145.8L531.3 144.4L535.9 144.3L540.6 144.1L545.2 143.6L549.8 142.6L554.4 142.1L559 142.5L563.6 141.4L568.3 140.8L572.9 138.9L577.5 138L582.1 136.1L586.7 134.6L591.3 132L596 129.6L600.6 128.7L605.2 127.4L609.8 125.9L614.4 123L619 118.3L623.7 115.3L628.3 110.6L632.9 105L637.5 101.9L642.1 99.9L646.7 98.3L651.4 96.3L656 95.1L660.6 93.6L665.2 91.5L669.8 89L674.4 84.6L679.1 82.3L683.7 80.8L688.3 81.3L692.9 83.8L697.5 84.8L702.1 86.6L706.8 91.5L711.4 96L716 99.6L720.6 104.6L725.2 109.8L729.8 115.6L734.5 121.1L739.1 128.2L743.7 136.1L748.3 144.2L752.9 150.3L757.6 155.2L762.2 160.1L766.8 163.7L771.4 167.3L776 170.8L780.6 173.2L785.3 176.6L789.9 181.4L794.5 185.5L799.1 189.1L803.7 192.3L808.3 194.9L813 197.2L817.6 200.1L822.2 202.9L826.8 206.1L831.4 210.4L836 212.9L840.7 216L845.3 219.3L849.9 223.8L854.5 226.3L859.1 227.6L863.7 226.4L868.4 226.1L873 225.9L877.6 224.9L882.2 226.4"/>
<path class="g" d="M-4.3 296.6L0.4 293.3L5 295L9.6 295.1L14.2 292.6L18.8 289.4L23.4 287.4L28.1 282.2L32.7 277.8L37.3 274.4L41.9 272L46.5 270.5L51.2 268.9L55.8 266.6L60.4 265.2L65 263L69.6 260.2L74.2 257.2L78.9 254.6L83.5 252.2L88.1 244.8L92.7 239L97.3 236.2L101.9 235L106.6 232.9L111.2 234.1L115.8 235.3L120.4 235.5L125 235.9L129.6 235.5L134.3 235.7L138.9 236.5L143.5 236.2L148.1 236.3L152.7 236.5L157.3 236.3L162 235.9L166.6 234.8L171.2 234.6L175.8 234.9L180.4 233.9L185 231.9L189.7 229.9L194.3 227.3L198.9 224.3L203.5 222.1L208.1 219.2L212.7 216.1L217.4 213.4L222 211.3L226.6 203.6L231.2 195.7L235.8 188.7L240.4 182.5L245.1 173.6L249.7 165.2L254.3 156.8L258.9 147.2L263.5 139.6L268.1 131.7L272.8 124.6L277.4 118.6L282 111.8L286.6 104.8L291.2 95.8L295.9 86.4L300.5 77.2L305.1 68L309.7 64.5L314.3 61.3L318.9 57.6L323.6 55.2L328.2 55.6L332.8 55.3L337.4 55.6L342 57.4L346.6 58.7L351.3 60.7L355.9 62.4L360.5 63.2L365.1 64.9L369.7 66.4L374.3 70.3L379 73.8L383.6 77.7L388.2 80.2L392.8 82.6L397.4 87.6L402 93.7L406.7 97.8L411.3 101.9L415.9 107.3L420.5 113.3L425.1 117.9L429.7 122.6L434.4 124.8L439 127.8L443.6 132.5L448.2 136.9L452.8 141.2L457.4 144.4L462.1 148.2L466.7 151.3L471.3 155.9L475.9 161L480.5 163.5L485.1 163.8L489.8 163.8L494.4 162.8L499 161.1L503.6 157.2L508.2 154.4L512.9 151.6L517.5 151.7L522.1 150.6L526.7 148.7L531.3 146.9L535.9 145.6L540.6 145.3L545.2 145.7L549.8 145.6L554.4 145.2L559 144.3L563.6 141.5L568.3 139.8L572.9 137.8L577.5 136.7L582.1 135.1L586.7 134.3L591.3 132.7L596 130.8L600.6 130L605.2 128.9L609.8 127.9L614.4 126.2L619 122.7L623.7 120L628.3 115.9L632.9 110.8L637.5 105.7L642.1 101.9L646.7 99.5L651.4 97.2L656 96.2L660.6 94.9L665.2 93L669.8 90.3L674.4 87.9L679.1 86.9L683.7 85.4L688.3 85.3L692.9 85.2L697.5 86.1L702.1 87.7L706.8 89.7L711.4 92.8L716 97.1L720.6 101.9L725.2 106.1L729.8 111.6L734.5 116.9L739.1 122.5L743.7 128.1L748.3 134.7L752.9 141.4L757.6 148.1L762.2 154.5L766.8 158.9L771.4 162.5L776 165.1L780.6 168.2L785.3 172.7L789.9 177L794.5 181.4L799.1 185.6L803.7 189.6L808.3 192.5L813 195L817.6 198.3L822.2 201.1L826.8 203.6L831.4 206.9L836 210.1L840.7 213L845.3 215.1L849.9 218.5L854.5 220.7L859.1 223.2L863.7 224.3L868.4 225.4L873 225.2L877.6 224.7L882.2 225.7"/>
<path class="m" stroke="#ff0000" d="M-4.3 300.9L0.4 298L5 299.4L9.6 299.2L14.2 296.5L18.8 292.9L23.4 290.4L28.1 284.8L32.7 280.1L37.3 276.3L41.9 273.5L46.5 271.5L51.2 269.6L55.8 267.1L60.4 265.7L65 263.7L69.6 261.3L74.2 258.9L78.9 256.8L83.5 255L88.1 252.8L92.7 250.3L97.3 243.6L101.9 238.8L106.6 236.6L111.2 235L115.8 233.2L120.4 234.3L125 235.8L129.6 236.6L134.3 236.9L138.9 236.5L143.5 236.2L148.1 236.4L152.7 235.5L157.3 234.8L162 235L166.6 234.9L171.2 234.8L175.8 234.7L180.4 233.7L185 232.4L189.7 230.9L194.3 228.1L198.9 225.4L203.5 223.5L208.1 221.3L212.7 219.1L217.4 216.6L222 214.7L226.6 207.3L231.2 199.7L235.8 192.7L240.4 186.4L245.1 178.3L249.7 170.9L254.3 163.7L258.9 155.9L263.5 148.2L268.1 139.6L272.8 132.5L277.4 126.1L282 119.2L286.6 113.3L291.2 105.7L295.9 97L300.5 88.8L305.1 81.4L309.7 73.3L314.3 64.7L318.9 61.3L323.6 59.9L328.2 58.5L332.8 56.4L337.4 57.5L342 58.9L346.6 59.9L351.3 61.7L355.9 63.1L360.5 64.5L365.1 65.5L369.7 66.3L374.3 68.4L379 69L383.6 72.5L388.2 75.8L392.8 78.2L397.4 82.4L402 87.7L406.7 92.8L411.3 98.5L415.9 103.3L420.5 109.4L425.1 115.2L429.7 120.2L434.4 122.3L439 125.3L443.6 129.1L448.2 132.5L452.8 136.5L457.4 139.9L462.1 142.6L466.7 145.4L471.3 149.7L475.9 153.2L480.5 157.4L485.1 160.8L489.8 161.4L494.4 160.6L499 160.3L503.6 159.2L508.2 157.7L512.9 154.6L517.5 152.8L522.1 150.5L526.7 150.6L531.3 149.7L535.9 148.2L540.6 147.5L545.2 146.8L549.8 146.5L554.4 147L559 146.8L563.6 144.3L568.3 141.7L572.9 138.2L577.5 136.2L582.1 134.5L586.7 133.5L591.3 132.1L596 130.9L600.6 130.8L605.2 130.1L609.8 129.2L614.4 127.7L619 124.8L623.7 123.2L628.3 120.1L632.9 115.5L637.5 111L642.1 107.5L646.7 103.2L651.4 99.3L656 97.5L660.6 95.8L665.2 94.2L669.8 91.8L674.4 89.6L679.1 88.3L683.7 88.2L688.3 89.1L692.9 88.9L697.5 89.2L702.1 88.6L706.8 90.3L711.4 93.2L716 94.9L720.6 98.4L725.2 103.2L729.8 108.5L734.5 112.8L739.1 118.2L743.7 123.6L748.3 128.9L752.9 133.7L757.6 139.1L762.2 146L766.8 152.2L771.4 157.1L776 160.7L780.6 163.8L785.3 167.4L789.9 172.2L794.5 177.5L799.1 181.3L803.7 185.5L808.3 189.1L813 192.3L817.6 195.8L822.2 198.7L826.8 201.7L831.4 204.9L836 207.5L840.7 209.6L845.3 212.4L849.9 215.6L854.5 216.7L859.1 218.5L863.7 219.4L868.4 221.7L873 223.5L877.6 224.2L882.2 225.1"/>
<path class="g" d="M-4.3 304L0.4 301.6L5 303.1L9.6 303L14.2 300.4L18.8 296.8L23.4 294L28.1 288.4L32.7 283.4L37.3 279.3L41.9 276L46.5 273.5L51.2 271.2L55.8 268.4L60.4 266.6L65 264.5L69.6 262.1L74.2 259.9L78.9 258.2L83.5 256.8L88.1 255L92.7 253.1L97.3 250.9L101.9 249.2L106.6 243.3L111.2 238.5L115.8 236.5L120.4 235.2L125 233.9L129.6 235.4L134.3 236.7L138.9 237.4L143.5 237.3L148.1 236.5L152.7 235.6L157.3 235.1L162 234.2L166.6 233.7L171.2 234.1L175.8 234.8L180.4 234L185 232.5L189.7 231.1L194.3 228.9L198.9 226.8L203.5 224.6L208.1 222.6L212.7 220.6L217.4 218.8L222 217.5L226.6 210.8L231.2 203.9L235.8 197.1L240.4 190.9L245.1 182.9L249.7 175.5L254.3 168.9L258.9 161.9L263.5 155.2L268.1 148.2L272.8 141L277.4 133.8L282 126.9L286.6 120.6L291.2 112.9L295.9 105.3L300.5 98.4L305.1 91.4L309.7 84.2L314.3 77.2L318.9 69.6L323.6 63.2L328.2 61.9L332.8 60.6L337.4 60L342 59.6L346.6 61.3L351.3 62.7L355.9 63.8L360.5 65L365.1 65.8L369.7 67.1L374.3 68.6L379 68.6L383.6 70.5L388.2 71.2L392.8 73.4L397.4 78.2L402 83.2L406.7 87.6L411.3 92.5L415.9 98.3L420.5 105.6L425.1 110.9L429.7 116L434.4 119.5L439 122.9L443.6 126.4L448.2 129.7L452.8 133L457.4 135.6L462.1 138.2L466.7 141.2L471.3 144.5L475.9 147.6L480.5 151.6L485.1 153.7L489.8 156L494.4 158.2L499 158.5L503.6 157.5L508.2 157.3L512.9 156.7L517.5 155.9L522.1 153.4L526.7 151.7L531.3 149.6L535.9 150L540.6 149.9L545.2 149.1L549.8 148.4L554.4 147.8L559 147.5L563.6 146L568.3 144.2L572.9 141.2L577.5 138.3L582.1 135.2L586.7 133.4L591.3 131.8L596 130.5L600.6 130.4L605.2 130.3L609.8 130L614.4 128.9L619 126.2L623.7 124.9L628.3 122.3L632.9 118.8L637.5 115.2L642.1 112L646.7 108.2L651.4 104.6L656 101L660.6 97.8L665.2 95.6L669.8 92.9L674.4 91L679.1 89.8L683.7 89.8L688.3 90.2L692.9 91.2L697.5 92.3L702.1 91.7L706.8 92.7L711.4 93.5L716 95L720.6 98.2L725.2 100.6L729.8 104.7L734.5 109.6L739.1 114.7L743.7 119.3L748.3 124.4L752.9 129.1L757.6 133.5L762.2 138.6L766.8 143.7L771.4 149.2L776 154.4L780.6 158.8L785.3 163.2L789.9 167.8L794.5 172.2L799.1 176.4L803.7 181.6L808.3 184.8L813 188.3L817.6 192.3L822.2 195.9L826.8 199.1L831.4 202.4L836 205.3L840.7 207.5L845.3 209.8L849.9 212.3L854.5 214.1L859.1 215.8L863.7 216L868.4 217.6L873 219.1L877.6 220.9L882.2 223.5"/>
<path class="g" d="M-4.3 305.8L0.4 304L5 305.7L9.6 305.9L14.2 303.6L18.8 300.5L23.4 297.8L28.1 292.4L32.7 287.4L37.3 283L41.9 279.4L46.5 276.5L51.2 273.6L55.8 270.5L60.4 268.3L65 265.8L69.6 263.2L74.2 260.9L78.9 259.2L83.5 257.9L88.1 256.4L92.7 254.8L97.3 253.1L101.9 251.7L106.6 250.1L111.2 248L115.8 242.6L120.4 238.3L125 236.9L129.6 236.1L134.3 234.8L138.9 236.2L143.5 237.1L148.1 237.2L152.7 236.6L157.3 235.3L162 234.4L166.6 234L171.2 233.5L175.8 233.7L180.4 233.4L185 232.8L189.7 231.5L194.3 229.3L198.9 227.3L203.5 225.6L208.1 224.1L212.7 221.8L217.4 220.2L222 219.1L226.6 213.3L231.2 207.4L235.8 201.2L240.4 195.5L245.1 187.8L249.7 180.6L254.3 173.9L258.9 166.9L263.5 160.7L268.1 154.4L272.8 148.1L277.4 142.1L282 135.1L286.6 128.1L291.2 120.5L295.9 112.7L300.5 105.7L305.1 99.6L309.7 93.5L314.3 86.8L318.9 80L323.6 74.8L328.2 69.5L332.8 63.6L337.4 63L342 63.2L346.6 63.2L351.3 63L355.9 64.7L360.5 65.7L365.1 66.2L369.7 67.5L374.3 68.6L379 69.2L383.6 70.5L388.2 70.7L392.8 71.5L397.4 73.8L402 78.4L406.7 83.3L411.3 88L415.9 93.1L420.5 99.6L425.1 105.7L429.7 112L434.4 115.2L439 118.8L443.6 123.5L448.2 127.1L452.8 130.3L457.4 132.8L462.1 134.9L466.7 137.2L471.3 140.3L475.9 143.6L480.5 146.6L485.1 148.5L489.8 150.8L494.4 151.9L499 153.8L503.6 155.5L508.2 155.8L512.9 155.4L517.5 155.7L522.1 155.4L526.7 154.6L531.3 152.4L535.9 151L540.6 149.9L545.2 150.6L549.8 150.5L554.4 149.8L559 149.1L563.6 146.9L568.3 145.1L572.9 143L577.5 140.9L582.1 138.1L586.7 135.5L591.3 132.7L596 130.7L600.6 130.3L605.2 130L609.8 129.7L614.4 129.2L619 127.2L623.7 126.2L628.3 123.8L632.9 120.7L637.5 117.6L642.1 115.4L646.7 112.3L651.4 109L656 105.8L660.6 102.8L665.2 99L669.8 95L674.4 92.5L679.1 91L683.7 91L688.3 91.4L692.9 92.3L697.5 93L702.1 93.5L706.8 95.3L711.4 95.9L716 96.8L720.6 98.1L725.2 100.2L729.8 104L734.5 106.7L739.1 110.7L743.7 115.8L748.3 120.7L752.9 124.6L757.6 129L762.2 134L766.8 138.1L771.4 142.1L776 146.4L780.6 151.4L785.3 157.2L789.9 162.9L794.5 167.9L799.1 172.1L803.7 176.4L808.3 180.1L813 184.5L817.6 188.1L822.2 192L826.8 195.7L831.4 199.5L836 202.7L840.7 205L845.3 207.6L849.9 210.1L854.5 211.6L859.1 212.8L863.7 213.6L868.4 215.2L873 215.9L877.6 217.2L882.2 219.5"/>
<path class="g" d="M-4.3 306.8L0.4 305.4L5 307.3L9.6 307.8L14.2 306L18.8 303.3L23.4 301L28.1 296.1L32.7 291.4L37.3 287.1L41.9 283.4L46.5 280.1L51.2 276.9L55.8 273.4L60.4 270.8L65 268L69.6 265.1L74.2 262.5L78.9 260.4L83.5 259L88.1 257.4L92.7 256L97.3 254.6L101.9 253.5L106.6 252.2L111.2 250.5L115.8 248.9L120.4 247.1L125 242.5L129.6 238.9L134.3 237.5L138.9 236.8L143.5 235.3L148.1 236.2L152.7 236.4L157.3 236.1L162 235.4L166.6 234.3L171.2 233.7L175.8 234L180.4 232.9L185 231.9L189.7 231.2L194.3 229.8L198.9 228L203.5 226.2L208.1 224.8L212.7 223L217.4 221.8L222 220.3L226.6 215L231.2 209.6L235.8 204.2L240.4 199.4L245.1 192.2L249.7 185.5L254.3 179.1L258.9 172.2L263.5 166L268.1 159.5L272.8 153.7L277.4 148.3L282 142.1L286.6 136.2L291.2 128.6L295.9 120.2L300.5 113.3L305.1 106.8L309.7 100.5L314.3 94.7L318.9 88.8L323.6 83.8L328.2 79L332.8 74.3L337.4 69.9L342 65.7L346.6 65.7L351.3 66.1L355.9 66.2L360.5 65.7L365.1 66.9L369.7 67.8L374.3 68.8L379 69.4L383.6 70.4L388.2 71.1L392.8 71.4L397.4 73.2L402 76.3L406.7 78.9L411.3 83.2L415.9 88.7L420.5 94.9L425.1 100.3L429.7 105.9L434.4 110L439 114.9L443.6 119.2L448.2 123.1L452.8 127.3L457.4 130.2L462.1 132.2L466.7 134.5L471.3 137.1L475.9 139.7L480.5 142.6L485.1 144.8L489.8 146.3L494.4 147.2L499 149.2L503.6 149.9L508.2 151.7L512.9 153.7L517.5 154.4L522.1 154.3L526.7 154.5L531.3 154.3L535.9 153.8L540.6 152.4L545.2 151.5L549.8 150.5L554.4 151.2L559 151.1L563.6 148.8L568.3 146.8L572.9 144L577.5 141.9L582.1 140.1L586.7 138.1L591.3 135.6L596 132.8L600.6 131.2L605.2 130.1L609.8 129.7L614.4 129L619 127.2L623.7 126.6L628.3 124.9L632.9 122.3L637.5 119.4L642.1 117.4L646.7 114.8L651.4 112.3L656 109.8L660.6 107L665.2 103.6L669.8 99.8L674.4 95.9L679.1 93.1L683.7 92.4L688.3 92.4L692.9 93.3L697.5 93.9L702.1 94.4L706.8 95.7L711.4 97.2L716 98.9L720.6 99.9L725.2 101.5L729.8 103.4L734.5 105.9L739.1 109.6L743.7 112.6L748.3 116.6L752.9 121L757.6 125.2L762.2 129.5L766.8 133.6L771.4 137.6L776 141L780.6 144.7L785.3 149.6L789.9 155.8L794.5 162L799.1 167.2L803.7 172.1L808.3 175.8L813 179.5L817.6 183.5L822.2 188.1L826.8 191.5L831.4 195.6L836 199.2L840.7 202.1L845.3 205L849.9 207.6L854.5 209.4L859.1 210.7L863.7 211.3L868.4 212.4L873 213.8L877.6 215L882.2 216.6"/>
<path class="g" d="M-4.3 307.2L0.4 306.1L5 308.1L9.6 308.8L14.2 307.5L18.8 305.3L23.4 303.4L28.1 299L32.7 294.8L37.3 290.9L41.9 287.4L46.5 284.1L51.2 280.8L55.8 277.1L60.4 274.1L65 270.9L69.6 267.6L74.2 264.7L78.9 262.3L83.5 260.5L88.1 258.7L92.7 257.1L97.3 255.7L101.9 254.7L106.6 253.6L111.2 252.2L115.8 251L120.4 249.4L125 248.4L129.6 247L134.3 242.7L138.9 239.3L143.5 237.8L148.1 236.7L152.7 234.9L157.3 235.2L162 235.4L166.6 235.1L171.2 234.7L175.8 234.2L180.4 233.1L185 232.3L189.7 230.8L194.3 229.2L198.9 227.9L203.5 226.9L208.1 225.6L212.7 223.8L217.4 222.5L222 221.5L226.6 216.8L231.2 211.4L235.8 206.5L240.4 202L245.1 195.7L249.7 189.9L254.3 183.8L258.9 177.5L263.5 171.3L268.1 165L272.8 159L277.4 153.6L282 147.7L286.6 142.4L291.2 135.6L295.9 128.3L300.5 121.3L305.1 114.2L309.7 107.9L314.3 101.7L318.9 95.7L323.6 91.3L328.2 87.3L332.8 82.6L337.4 78.7L342 75.5L346.6 71.9L351.3 68.2L355.9 68.3L360.5 68.4L365.1 68.1L369.7 67.7L374.3 69.2L379 69.6L383.6 70.4L388.2 71.1L392.8 71.3L397.4 73.4L402 75.9L406.7 77.9L411.3 80.9L415.9 84.2L420.5 90L425.1 95.7L429.7 101.1L434.4 104.7L439 109L443.6 114.2L448.2 119.1L452.8 123L457.4 126.2L462.1 129.3L466.7 131.9L471.3 134.4L475.9 137L480.5 139.4L485.1 141.1L489.8 142.6L494.4 143.8L499 145.1L503.6 145.8L508.2 147.6L512.9 148.6L517.5 150.7L522.1 152.8L526.7 153.4L531.3 153.3L535.9 153.8L540.6 154.1L545.2 154L549.8 152.7L554.4 152L559 151L563.6 150.2L568.3 148.7L572.9 146L577.5 143.7L582.1 141.2L586.7 139.3L591.3 137.6L596 135.4L600.6 134L605.2 132.2L609.8 130.6L614.4 129.2L619 127.3L623.7 126.6L628.3 125L632.9 122.9L637.5 120.7L642.1 119L646.7 116.6L651.4 114.4L656 112.2L660.6 110.3L665.2 107.4L669.8 104L674.4 100.3L679.1 97.7L683.7 95.6L688.3 94.2L692.9 94.4L697.5 94.7L702.1 95.2L706.8 96.4L711.4 97.8L716 99L720.6 100.9L725.2 103.1L729.8 104.8L734.5 106.7L739.1 108.7L743.7 111.4L748.3 115.1L752.9 117.7L757.6 121L762.2 125.8L766.8 129.8L771.4 133.2L776 136.6L780.6 140.3L785.3 144.4L789.9 149.2L794.5 154.6L799.1 160.3L803.7 166.3L808.3 171L813 175.2L817.6 179.3L822.2 183.2L826.8 187L831.4 191.8L836 195.1L840.7 198.3L845.3 201.6L849.9 204.7L854.5 206.9L859.1 208.3L863.7 209.4L868.4 210.6L873 211.6L877.6 212.5L882.2 214.5"/>
<path class="m" stroke="#008000" d="M-4.3 307.4L0.4 306.5L5 308.4L9.6 309.2L14.2 308.2L18.8 306.4L23.4 305L28.1 301.2L32.7 297.5L37.3 294L41.9 290.9L46.5 287.9L51.2 284.7L55.8 281L60.4 277.9L65 274.4L69.6 270.9L74.2 267.6L78.9 264.9L83.5 262.7L88.1 260.6L92.7 258.7L97.3 257L101.9 255.8L106.6 254.6L111.2 253.4L115.8 252.4L120.4 251.1L125 250.3L129.6 249.2L134.3 248.2L138.9 246.9L143.5 242.6L148.1 239.1L152.7 237.2L157.3 235.7L162 234L166.6 234.3L171.2 234.7L175.8 235L180.4 234.1L185 232.7L189.7 231.2L194.3 229.8L198.9 227.8L203.5 226.5L208.1 225.7L212.7 224.5L217.4 223.5L222 222.3L226.6 217.9L231.2 213.2L235.8 208.7L240.4 204.2L245.1 198.4L249.7 193L254.3 187.6L258.9 182L263.5 176.3L268.1 170.4L272.8 164.5L277.4 159.1L282 153.1L286.6 147.7L291.2 141.3L295.9 134.6L300.5 128.2L305.1 122.2L309.7 115.8L314.3 109L318.9 102.9L323.6 98.2L328.2 93.8L332.8 89.7L337.4 86.4L342 83.2L346.6 80L351.3 77.1L355.9 73.9L360.5 70.2L365.1 70L369.7 70.1L374.3 70.2L379 69.4L383.6 70.7L388.2 71.2L392.8 71.2L397.4 73.2L402 75.4L406.7 77.8L411.3 80.2L415.9 82.9L420.5 87.3L425.1 91.1L429.7 96.1L434.4 100.1L439 104.4L443.6 108.9L448.2 113.4L452.8 118L457.4 122.3L462.1 125.2L466.7 128.1L471.3 131.6L475.9 134.5L480.5 136.8L485.1 138.4L489.8 139.6L494.4 140.4L499 141.7L503.6 142.7L508.2 143.9L512.9 144.8L517.5 146.9L522.1 148.1L526.7 150L531.3 152L535.9 152.8L540.6 153.3L545.2 154L549.8 154.4L554.4 154.3L559 153.1L563.6 151L568.3 148.8L572.9 147.4L577.5 145.7L582.1 143.3L586.7 141.1L591.3 138.8L596 136.7L600.6 136L605.2 134.7L609.8 133.2L614.4 131.2L619 128.3L623.7 127L628.3 125.3L632.9 123.2L637.5 121.1L642.1 119.9L646.7 118L651.4 116.1L656 114.1L660.6 112.3L665.2 109.9L669.8 107.2L674.4 104.2L679.1 101.7L683.7 99.8L688.3 98.5L692.9 97.2L697.5 96.2L702.1 96.1L706.8 96.9L711.4 98.3L716 99.4L720.6 101.2L725.2 103L729.8 105.4L734.5 107.8L739.1 109.6L743.7 111.8L748.3 113.9L752.9 116.3L757.6 119.4L762.2 122.4L766.8 125.6L771.4 129.5L776 132.9L780.6 136L785.3 140.1L789.9 144.8L794.5 149.4L799.1 153.9L803.7 159.1L808.3 164.3L813 169.7L817.6 174.6L822.2 179L826.8 182.8L831.4 186.9L836 190.7L840.7 194.5L845.3 197.6L849.9 201L854.5 203.6L859.1 205.6L863.7 207L868.4 208.3L873 209.8L877.6 210.7L882.2 212.5"/>
<path class="g" d="M-4.3 307.5L0.4 306.6L5 308.5L9.6 309.3L14.2 308.5L18.8 307L23.4 305.8L28.1 302.5L32.7 299.3L37.3 296.3L41.9 293.6L46.5 291L51.2 288.1L55.8 284.7L60.4 281.7L65 278.3L69.6 274.6L74.2 271.1L78.9 268.1L83.5 265.6L88.1 263.1L92.7 260.9L97.3 258.9L101.9 257.4L106.6 256L111.2 254.5L115.8 253.5L120.4 252.3L125 251.6L129.6 250.8L134.3 250L138.9 249L143.5 247.7L148.1 246.2L152.7 241.7L157.3 238L162 236.2L166.6 234.9L171.2 233.4L175.8 234.3L180.4 234.1L185 233.5L189.7 232.2L194.3 230.2L198.9 228.3L203.5 227.2L208.1 225.7L212.7 224.4L217.4 223.7L222 223.1L226.6 219.1L231.2 214.4L235.8 210.2L240.4 206.3L245.1 201L249.7 195.6L254.3 190.6L258.9 185.4L263.5 180.3L268.1 175.1L272.8 169.6L277.4 164.5L282 158.6L286.6 153.2L291.2 146.7L295.9 140.1L300.5 134.1L305.1 128.5L309.7 122.6L314.3 116.8L318.9 110.6L323.6 105.2L328.2 100.7L332.8 96.3L337.4 92.6L342 89.9L346.6 87.2L351.3 84.3L355.9 81.4L360.5 78.5L365.1 75.1L369.7 71.7L374.3 71.8L379 71.5L383.6 71.6L388.2 70.9L392.8 71.4L397.4 73.1L402 75.1L406.7 77.3L411.3 79.5L415.9 82.5L420.5 86.3L425.1 89.4L429.7 93.3L434.4 95.5L439 99.4L443.6 104.4L448.2 108.7L452.8 112.9L457.4 116.7L462.1 120.4L466.7 124.3L471.3 127.6L475.9 130.7L480.5 134L485.1 136L489.8 137.2L494.4 138L499 139L503.6 139.6L508.2 140.8L512.9 142L517.5 143.5L522.1 144.6L526.7 146.5L531.3 147.7L535.9 149.7L540.6 152L545.2 153.1L549.8 153.5L554.4 154.3L559 154.6L563.6 153.2L568.3 150.9L572.9 148.4L577.5 146L582.1 144.8L586.7 143.2L591.3 140.9L596 138.6L600.6 137.2L605.2 135.9L609.8 135.1L614.4 133.6L619 131L623.7 129L628.3 126.4L632.9 123.7L637.5 121.6L642.1 120.3L646.7 118.6L651.4 117.1L656 115.6L660.6 114.1L665.2 111.8L669.8 109.3L674.4 106.6L679.1 104.9L683.7 103.4L688.3 102.2L692.9 101.1L697.5 100.1L702.1 98.6L706.8 98.2L711.4 99L716 99.7L720.6 101.4L725.2 103.1L729.8 105.4L734.5 107.4L739.1 109.9L743.7 112.6L748.3 114.4L752.9 116.3L757.6 118L762.2 120.7L766.8 123.8L771.4 126.1L776 128.7L780.6 132.3L785.3 136.3L789.9 140.5L794.5 145L799.1 149.5L803.7 154L808.3 158L813 162.7L817.6 168.1L822.2 173.6L826.8 178.2L831.4 182.8L836 186.5L840.7 189.9L845.3 193.3L849.9 197.3L854.5 199.8L859.1 202.1L863.7 203.9L868.4 205.8L873 207.5L877.6 208.6L882.2 210.7"/>
<path class="g" d="M-4.3 307.8L0.4 306.9L5 308.5L9.6 309.3L14.2 308.6L18.8 307.2L23.4 306.2L28.1 303.2L32.7 300.4L37.3 297.8L41.9 295.5L46.5 293.3L51.2 290.9L55.8 287.8L60.4 285.1L65 281.9L69.6 278.4L74.2 275L78.9 271.8L83.5 269L88.1 266.3L92.7 263.7L97.3 261.3L101.9 259.5L106.6 257.8L111.2 256.1L115.8 254.8L120.4 253.4L125 252.7L129.6 251.9L134.3 251.3L138.9 250.5L143.5 249.5L148.1 248.2L152.7 246.6L157.3 244.8L162 240.5L166.6 237.1L171.2 235.6L175.8 234.8L180.4 233L185 232.9L189.7 232.4L194.3 231.1L198.9 229.5L203.5 227.8L208.1 226.4L212.7 225.1L217.4 223.8L222 223.1L226.6 219.5L231.2 215.7L235.8 211.8L240.4 207.9L245.1 202.8L249.7 198L254.3 193.6L258.9 188.3L263.5 183.6L268.1 178.7L272.8 173.8L277.4 169.2L282 163.8L286.6 158.6L291.2 152.3L295.9 145.7L300.5 139.6L305.1 133.9L309.7 128.4L314.3 123L318.9 117.4L323.6 112.7L328.2 108.1L332.8 103L337.4 99.2L342 96L346.6 93L351.3 90.5L355.9 88.1L360.5 85.1L365.1 82.1L369.7 79.4L374.3 76.6L379 72.9L383.6 73L388.2 72.8L392.8 72.2L397.4 72.7L402 75.1L406.7 77.1L411.3 79L415.9 81.8L420.5 85.3L425.1 88.6L429.7 91.9L434.4 93.7L439 96.6L443.6 99.8L448.2 103.8L452.8 108.4L457.4 112.2L462.1 115.4L466.7 119L471.3 122.9L475.9 127L480.5 130.1L485.1 132.4L489.8 134.5L494.4 135.7L499 136.7L503.6 137.4L508.2 138.3L512.9 139.1L517.5 140.6L522.1 141.9L526.7 143.3L531.3 144.4L535.9 146.4L540.6 148L545.2 150.1L549.8 152.3L554.4 153.4L559 153.8L563.6 153.2L568.3 152.4L572.9 150.6L577.5 148.1L582.1 145.8L586.7 143.6L591.3 142.4L596 140.7L600.6 139.3L605.2 137.7L609.8 136.3L614.4 134.8L619 132.8L623.7 131.3L628.3 128.9L632.9 125.8L637.5 122.9L642.1 121L646.7 119.2L651.4 117.7L656 116.3L660.6 115.1L665.2 113.3L669.8 111.2L674.4 108.6L679.1 107L683.7 105.8L688.3 105.1L692.9 104.4L697.5 103.5L702.1 102.1L706.8 101.7L711.4 101.2L716 100.8L720.6 101.9L725.2 103.1L729.8 105.3L734.5 107.2L739.1 109.6L743.7 111.9L748.3 114.4L752.9 116.8L757.6 118.2L762.2 120.5L766.8 122.2L771.4 124.3L776 126.8L780.6 129L785.3 132.2L789.9 136.8L794.5 141.2L799.1 145.1L803.7 149.6L808.3 153.6L813 157.7L817.6 162L822.2 166.8L826.8 171.8L831.4 177.4L836 182L840.7 185.8L845.3 189.2L849.9 192.7L854.5 195.5L859.1 198.5L863.7 200.3L868.4 202.5L873 204.6L877.6 206.2L882.2 208.5"/>
<path class="g" d="M-4.3 308.3L0.4 307.3L5 308.7L9.6 309.4L14.2 308.6L18.8 307.3L23.4 306.4L28.1 303.7L32.7 301.1L37.3 298.8L41.9 296.8L46.5 294.9L51.2 292.8L55.8 290.2L60.4 287.9L65 285L69.6 281.8L74.2 278.6L78.9 275.6L83.5 272.8L88.1 269.9L92.7 267.1L97.3 264.4L101.9 262.2L106.6 260.2L111.2 258.1L115.8 256.5L120.4 255L125 254L129.6 253L134.3 252.3L138.9 251.6L143.5 250.7L148.1 249.7L152.7 248.3L157.3 246.7L162 245.2L166.6 243.5L171.2 239.7L175.8 236.9L180.4 235L185 233.5L189.7 231.4L194.3 230.7L198.9 229.8L203.5 228.8L208.1 227.5L212.7 225.8L217.4 224.5L222 223.9L226.6 219.9L231.2 216L235.8 212.6L240.4 209.4L245.1 204.7L249.7 200L254.3 195.7L258.9 191.1L263.5 186.7L268.1 181.8L272.8 177.2L277.4 173L282 168L286.6 163.5L291.2 157.5L295.9 151.2L300.5 145.3L305.1 139.6L309.7 134L314.3 128.5L318.9 123.1L323.6 118.8L328.2 114.6L332.8 110.2L337.4 106.2L342 102.3L346.6 99.2L351.3 96.2L355.9 93.5L360.5 90.9L365.1 88.4L369.7 85.6L374.3 83.1L379 80.1L383.6 77.4L388.2 74.1L392.8 73.5L397.4 74.4L402 75.6L406.7 76.5L411.3 78.8L415.9 81.3L420.5 84.5L425.1 87.7L429.7 90.6L434.4 92.7L439 95.1L443.6 97.8L448.2 100.9L452.8 103.8L457.4 107.4L462.1 111L466.7 114.5L471.3 118.1L475.9 121.8L480.5 125.5L485.1 128.8L489.8 130.8L494.4 132.3L499 134.2L503.6 135.2L508.2 136.1L512.9 137.1L517.5 138.3L522.1 139.2L526.7 140.6L531.3 141.9L535.9 143.4L540.6 144.8L545.2 147L549.8 148.5L554.4 150.6L559 152.6L563.6 152.5L568.3 151.8L572.9 150.8L577.5 149.7L582.1 148.1L586.7 145.7L591.3 143.5L596 141.2L600.6 140.8L605.2 139.8L609.8 138.3L614.4 136.6L619 134.1L623.7 132.6L628.3 130.8L632.9 128.2L637.5 125.5L642.1 123.1L646.7 120.5L651.4 118.5L656 117L660.6 115.8L665.2 114.1L669.8 112.3L674.4 110.3L679.1 108.9L683.7 107.7L688.3 107.1L692.9 106.6L697.5 106.2L702.1 105.2L706.8 104.8L711.4 104.3L716 104L720.6 103.8L725.2 104L729.8 105.6L734.5 107L739.1 109.3L743.7 111.5L748.3 113.9L752.9 115.9L757.6 118L762.2 120.7L766.8 122.2L771.4 123.9L776 125.2L780.6 127.1L785.3 130.2L789.9 133.3L794.5 137.1L799.1 141.4L803.7 145.7L808.3 149.3L813 153.3L817.6 157.6L822.2 161.8L826.8 165.9L831.4 170.8L836 175.7L840.7 180.5L845.3 184.8L849.9 188.7L854.5 191.6L859.1 194.2L863.7 196.3L868.4 199.1L873 201.1L877.6 203L882.2 205.7"/>
<path class="g" d="M-4.3 309L0.4 307.9L5 309.1L9.6 309.6L14.2 308.8L18.8 307.5L23.4 306.6L28.1 303.9L32.7 301.6L37.3 299.4L41.9 297.6L46.5 296L51.2 294.2L55.8 291.9L60.4 289.9L65 287.4L69.6 284.6L74.2 281.7L78.9 278.9L83.5 276.3L88.1 273.5L92.7 270.7L97.3 267.9L101.9 265.5L106.6 263.1L111.2 260.8L115.8 258.9L120.4 257L125 255.7L129.6 254.5L134.3 253.5L138.9 252.6L143.5 251.7L148.1 250.7L152.7 249.6L157.3 248.2L162 246.9L166.6 245.5L171.2 244.2L175.8 243L180.4 239L185 235.5L189.7 233.4L194.3 231.4L198.9 229L203.5 228.5L208.1 227.9L212.7 226.9L217.4 225.7L222 224.6L226.6 220.8L231.2 217.1L235.8 213.3L240.4 210.1L245.1 205.9L249.7 201.9L254.3 197.9L258.9 193.3L263.5 189.2L268.1 184.7L272.8 180.5L277.4 176.2L282 171.6L286.6 167.3L291.2 161.9L295.9 156.2L300.5 150.5L305.1 145.2L309.7 139.7L314.3 134.2L318.9 128.7L323.6 124.3L328.2 120.2L332.8 116.1L337.4 112.5L342 109.3L346.6 105.8L351.3 102.2L355.9 99.3L360.5 96.3L365.1 93.5L369.7 91.1L374.3 88.9L379 86L383.6 83.5L388.2 80.8L392.8 77.7L397.4 75.6L402 76.7L406.7 77.9L411.3 79.1L415.9 80.5L420.5 83.9L425.1 86.9L429.7 89.6L434.4 91.6L439 93.7L443.6 96.7L448.2 99.3L452.8 101.7L457.4 104.4L462.1 106.5L466.7 109.8L471.3 113.7L475.9 117.4L480.5 120.8L485.1 123.7L489.8 126.4L494.4 128.9L499 130.7L503.6 132L508.2 133.8L512.9 135L517.5 136.2L522.1 137.3L526.7 138.4L531.3 139.3L535.9 140.8L540.6 142.4L545.2 144.1L549.8 145.5L554.4 147.6L559 149L563.6 149.8L568.3 150.8L572.9 150.2L577.5 149.3L582.1 148.4L586.7 147.4L591.3 145.8L596 143.4L600.6 142L605.2 140.3L609.8 139.9L614.4 138.6L619 136.1L623.7 134.4L628.3 132.2L632.9 129.6L637.5 127.5L642.1 125.5L646.7 123.1L651.4 120.6L656 118.3L660.6 116.6L665.2 114.9L669.8 113.1L674.4 111.1L679.1 110.1L683.7 109.3L688.3 108.9L692.9 108.4L697.5 108L702.1 107.3L706.8 107.3L711.4 107.1L716 106.8L720.6 106.7L725.2 106.8L729.8 107.2L734.5 107.6L739.1 109.3L743.7 111.1L748.3 113.4L752.9 115.3L757.6 117.3L762.2 119.7L766.8 121.7L771.4 123.9L776 125L780.6 126.6L785.3 128.5L789.9 131.4L794.5 135L799.1 137.9L803.7 141.6L808.3 145.5L813 149.5L817.6 153.3L822.2 157.5L826.8 161.5L831.4 165.9L836 169.9L840.7 174.1L845.3 178.7L849.9 183.6L854.5 187.2L859.1 190.3L863.7 192.5L868.4 194.9L873 197.3L877.6 199.8L882.2 202.3"/>
<path class="m" stroke="#ff00ff" d="M-4.3 310L0.4 308.8L5 309.8L9.6 310.1L14.2 309.2L18.8 307.8L23.4 306.8L28.1 304.3L32.7 302L37.3 299.9L41.9 298.2L46.5 296.8L51.2 295.1L55.8 293.1L60.4 291.3L65 289.2L69.6 286.7L74.2 284.2L78.9 281.7L83.5 279.4L88.1 276.8L92.7 274.2L97.3 271.5L101.9 269L106.6 266.5L111.2 264L115.8 261.8L120.4 259.6L125 258L129.6 256.4L134.3 255.2L138.9 254L143.5 252.9L148.1 251.8L152.7 250.6L157.3 249.3L162 248.2L166.6 246.9L171.2 245.8L175.8 244.9L180.4 243.3L185 241.4L189.7 237.2L194.3 233.5L198.9 231L203.5 229.3L208.1 227.3L212.7 226.7L217.4 226.2L222 225.6L226.6 222.1L231.2 218.1L235.8 214.5L240.4 211.4L245.1 206.9L249.7 202.9L254.3 199.3L258.9 195.4L263.5 191.5L268.1 187.2L272.8 183.1L277.4 179.3L282 175L286.6 170.7L291.2 165.6L295.9 160.2L300.5 155.1L305.1 150.2L309.7 144.9L314.3 139.7L318.9 134.3L323.6 129.8L328.2 125.6L332.8 121.4L337.4 117.9L342 114.9L346.6 111.8L351.3 108.8L355.9 105.6L360.5 102L365.1 99L369.7 96.2L374.3 93.8L379 91.1L383.6 89.1L388.2 86.4L392.8 83.5L397.4 81.9L402 80.5L406.7 78.8L411.3 79.9L415.9 81.6L420.5 84L425.1 85.8L429.7 88.9L434.4 90.6L439 92.6L443.6 95.4L448.2 97.8L452.8 100.5L457.4 102.7L462.1 104.5L466.7 106.9L471.3 109.4L475.9 112.8L480.5 116.6L485.1 119.5L489.8 121.9L494.4 124.1L499 126.6L503.6 128.8L508.2 130.5L512.9 132L517.5 134L522.1 135.3L526.7 136.5L531.3 137.5L535.9 138.7L540.6 140L545.2 141.6L549.8 143.2L554.4 144.8L559 146.1L563.6 147L568.3 147.4L572.9 147.8L577.5 148.5L582.1 147.9L586.7 147.1L591.3 146.2L596 145.1L600.6 144.2L605.2 142.4L609.8 141L614.4 139.1L619 137.7L623.7 136.4L628.3 134.2L632.9 131.5L637.5 128.9L642.1 127L646.7 125.1L651.4 123L656 120.9L660.6 118.7L665.2 116.2L669.8 114L674.4 112.1L679.1 110.9L683.7 110.2L688.3 110L692.9 109.8L697.5 109.7L702.1 108.9L706.8 109L711.4 109L716 109.1L720.6 109.2L725.2 109.3L729.8 109.7L734.5 110.1L739.1 110.7L743.7 111.4L748.3 113.2L752.9 114.7L757.6 116.7L762.2 118.9L766.8 120.9L771.4 122.7L776 124.5L780.6 126.4L785.3 128.2L789.9 130.7L794.5 133L799.1 135.8L803.7 139.3L808.3 142L813 145.3L817.6 149.5L822.2 153.6L826.8 157.2L831.4 161.5L836 165.5L840.7 169.2L845.3 173L849.9 177.4L854.5 181.4L859.1 185.3L863.7 188.3L868.4 191.2L873 193.6L877.6 195.8L882.2 198.6"/>
<path class="g" d="M-4.3 311.3L0.4 310L5 310.7L9.6 310.9L14.2 309.8L18.8 308.3L23.4 307.3L28.1 304.7L32.7 302.4L37.3 300.4L41.9 298.8L46.5 297.3L51.2 295.8L55.8 293.9L60.4 292.3L65 290.4L69.6 288.2L74.2 286L78.9 283.9L83.5 281.8L88.1 279.6L92.7 277.2L97.3 274.7L101.9 272.4L106.6 270L111.2 267.4L115.8 265.1L120.4 262.7L125 260.8L129.6 258.9L134.3 257.4L138.9 255.9L143.5 254.5L148.1 253.2L152.7 251.8L157.3 250.4L162 249.2L166.6 248L171.2 247.1L175.8 246.3L180.4 244.9L185 243.2L189.7 241.4L194.3 239.1L198.9 234.8L203.5 231.4L208.1 229.3L212.7 227.5L217.4 225.6L222 225.5L226.6 222.7L231.2 219.4L235.8 216.1L240.4 212.6L245.1 208.3L249.7 204.5L254.3 200.6L258.9 196.7L263.5 193.2L268.1 189.5L272.8 185.7L277.4 181.9L282 177.8L286.6 173.9L291.2 169.1L295.9 163.8L300.5 158.9L305.1 154.3L309.7 149.5L314.3 144.8L318.9 139.6L323.6 135.3L328.2 131.1L332.8 126.9L337.4 123.2L342 120L346.6 117L351.3 114.2L355.9 111.4L360.5 108.3L365.1 105L369.7 101.6L374.3 99L379 96L383.6 93.7L388.2 91.3L392.8 88.8L397.4 87.1L402 85.9L406.7 84.6L411.3 83.4L415.9 82.3L420.5 84.5L425.1 86.6L429.7 88.7L434.4 89.5L439 91.8L443.6 94.3L448.2 96.5L452.8 99L457.4 101.1L462.1 103.1L466.7 105.1L471.3 107.2L475.9 109.9L480.5 112.3L485.1 115L489.8 117.8L494.4 120.1L499 122.2L503.6 124.2L508.2 126.6L512.9 129L517.5 130.9L522.1 132.4L526.7 134.3L531.3 135.6L535.9 136.8L540.6 138.2L545.2 139.6L549.8 140.8L554.4 142.4L559 143.9L563.6 144.4L568.3 144.8L572.9 145.2L577.5 145.4L582.1 145.8L586.7 146.4L591.3 145.9L596 144.9L600.6 144.7L605.2 144L609.8 143.2L614.4 141.2L619 138.9L623.7 137.1L628.3 135.8L632.9 133.5L637.5 130.9L642.1 128.9L646.7 126.6L651.4 124.5L656 122.9L660.6 121.2L665.2 118.8L669.8 116.1L674.4 113.5L679.1 111.9L683.7 111.1L688.3 110.8L692.9 110.7L697.5 110.7L702.1 110.3L706.8 110.5L711.4 110.5L716 110.6L720.6 110.9L725.2 111.4L729.8 112L734.5 112.4L739.1 113L743.7 113.6L748.3 114.3L752.9 114.9L757.6 116.3L762.2 118.2L766.8 120.1L771.4 121.9L776 123.5L780.6 125.2L785.3 127.5L789.9 130.3L794.5 132.5L799.1 134.9L803.7 137.3L808.3 139.8L813 143L817.6 145.9L822.2 149.5L826.8 153.4L831.4 157.7L836 161.3L840.7 165L845.3 168.7L849.9 172.6L854.5 175.8L859.1 179.3L863.7 182.7L868.4 186.4L873 189.6L877.6 192.2L882.2 195.1"/>
<path class="g" d="M-4.3 312.9L0.4 311.4L5 311.9L9.6 311.9L14.2 310.7L18.8 309.1L23.4 308L28.1 305.4L32.7 303.1L37.3 301L41.9 299.4L46.5 297.9L51.2 296.4L55.8 294.6L60.4 293.1L65 291.3L69.6 289.3L74.2 287.3L78.9 285.4L83.5 283.7L88.1 281.7L92.7 279.6L97.3 277.4L101.9 275.4L106.6 273.2L111.2 270.7L115.8 268.4L120.4 266L125 264L129.6 261.9L134.3 260.1L138.9 258.3L143.5 256.6L148.1 255L152.7 253.4L157.3 251.7L162 250.4L166.6 249.1L171.2 248.1L175.8 247.4L180.4 246.1L185 244.7L189.7 243L194.3 241L198.9 238.9L203.5 236.9L208.1 232.9L212.7 229.6L217.4 227.7L222 226.3L226.6 222.3L231.2 219.6L235.8 216.9L240.4 214.2L245.1 210.1L249.7 206L254.3 202.2L258.9 198.5L263.5 194.7L268.1 190.9L272.8 187.6L277.4 184.3L282 180.5L286.6 176.6L291.2 172L295.9 167.1L300.5 162.6L305.1 158L309.7 153.4L314.3 148.9L318.9 144.2L323.6 140.4L328.2 136.3L332.8 132.3L337.4 128.6L342 125.3L346.6 122.1L351.3 119.1L355.9 116.3L360.5 113.5L365.1 110.5L369.7 107.7L374.3 104.8L379 101.2L383.6 98.7L388.2 95.9L392.8 93.2L397.4 91.8L402 90.8L406.7 89.5L411.3 88.4L415.9 87.8L420.5 87.6L425.1 87.1L429.7 89L434.4 90.1L439 91.4L443.6 93L448.2 95.5L452.8 97.8L457.4 99.7L462.1 101.6L466.7 103.5L471.3 105.8L475.9 108.1L480.5 110.1L485.1 112.1L489.8 113.6L494.4 115.8L499 118.3L503.6 120.4L508.2 122.4L512.9 124.6L517.5 127.1L522.1 129.5L526.7 131.3L531.3 132.8L535.9 134.8L540.6 136.4L545.2 137.8L549.8 139L554.4 140.4L559 141.6L563.6 142.1L568.3 142.7L572.9 142.8L577.5 142.9L582.1 143.4L586.7 143.5L591.3 143.9L596 144.3L600.6 144.4L605.2 143.9L609.8 143.6L614.4 142.8L619 141.1L623.7 139.1L628.3 137L632.9 134.2L637.5 132.6L642.1 131L646.7 128.6L651.4 126.5L656 124.4L660.6 122.7L665.2 120.8L669.8 118.6L674.4 116.1L679.1 114L683.7 112.5L688.3 111.8L692.9 111.5L697.5 111.4L702.1 111.1L706.8 111.5L711.4 111.7L716 112L720.6 112.2L725.2 112.7L729.8 113.5L734.5 114.2L739.1 115L743.7 115.6L748.3 116.3L752.9 116.8L757.6 117.2L762.2 118.2L766.8 119.6L771.4 121.1L776 122.7L780.6 124.3L785.3 126.5L789.9 129L794.5 131.7L799.1 134.4L803.7 136.6L808.3 138.8L813 140.9L817.6 143.7L822.2 147.1L826.8 149.9L831.4 153.5L836 157.4L840.7 161.1L845.3 164.5L849.9 168.3L854.5 171.6L859.1 174.6L863.7 177.3L868.4 180.6L873 184.2L877.6 187.6L882.2 191.2"/>
<path class="g" d="M-4.3 314.6L0.4 313L5 313.4L9.6 313.2L14.2 311.9L18.8 310.2L23.4 308.9L28.1 306.3L32.7 303.9L37.3 301.8L41.9 300.1L46.5 298.6L51.2 297.1L55.8 295.3L60.4 293.8L65 292.1L69.6 290.2L74.2 288.3L78.9 286.6L83.5 285L88.1 283.3L92.7 281.5L97.3 279.6L101.9 277.8L106.6 275.8L111.2 273.6L115.8 271.5L120.4 269.2L125 267.2L129.6 265.1L134.3 263.2L138.9 261.2L143.5 259.3L148.1 257.3L152.7 255.4L157.3 253.6L162 252L166.6 250.5L171.2 249.3L175.8 248.4L180.4 247.1L185 245.8L189.7 244.3L194.3 242.5L198.9 240.5L203.5 238.7L208.1 236.9L212.7 234.9L217.4 231.2L222 228.4L226.6 224.4L231.2 220.7L235.8 216.8L240.4 214.6L245.1 211.2L249.7 207.7L254.3 204.2L258.9 200.2L263.5 196.5L268.1 193L272.8 189.2L277.4 185.9L282 182.5L286.6 179.1L291.2 174.8L295.9 170L300.5 165.6L305.1 161.4L309.7 157.2L314.3 152.7L318.9 148.2L323.6 144.5L328.2 140.9L332.8 137.2L337.4 133.7L342 130.5L346.6 127.3L351.3 124.2L355.9 121.2L360.5 118.2L365.1 115.3L369.7 112.6L374.3 110L379 107L383.6 104.2L388.2 100.9L392.8 98L397.4 96.2L402 94.9L406.7 93.8L411.3 93L415.9 92.3L420.5 92.2L425.1 92.1L429.7 91.7L434.4 90.3L439 91.6L443.6 93.5L448.2 95L452.8 96.5L457.4 98.6L462.1 100.4L466.7 102.1L471.3 104.3L475.9 106.4L480.5 108.6L485.1 110.3L489.8 111.5L494.4 112.9L499 114.3L503.6 116.2L508.2 118.7L512.9 120.9L517.5 123.1L522.1 125.3L526.7 127.7L531.3 130L535.9 131.8L540.6 133.7L545.2 135.7L549.8 137.3L554.4 138.7L559 139.9L563.6 140.2L568.3 140.6L572.9 140.7L577.5 141L582.1 141.2L586.7 141.3L591.3 141.7L596 141.7L600.6 142.6L605.2 143.4L609.8 143.5L614.4 142.7L619 141.6L623.7 140.8L628.3 139.1L632.9 136.3L637.5 133.9L642.1 131.8L646.7 130.3L651.4 128.6L656 126.5L660.6 124.6L665.2 122.3L669.8 120.1L674.4 118.1L679.1 116.4L683.7 115L688.3 113.8L692.9 112.8L697.5 112.3L702.1 111.9L706.8 112.2L711.4 112.4L716 112.8L720.6 113.4L725.2 114L729.8 114.6L734.5 115.4L739.1 116.2L743.7 117.2L748.3 118.1L752.9 118.6L757.6 119L762.2 119.9L766.8 120.4L771.4 120.9L776 122.1L780.6 123.4L785.3 125.5L789.9 127.9L794.5 130.5L799.1 132.9L803.7 135.6L808.3 138.1L813 140.1L817.6 142.5L822.2 144.9L826.8 147.5L831.4 151.1L836 153.9L840.7 157L845.3 160.7L849.9 164.5L854.5 167.4L859.1 170.5L863.7 173.2L868.4 176.1L873 178.9L877.6 182L882.2 185.9"/>
<path class="g" d="M-4.3 316.5L0.4 314.8L5 315L9.6 314.7L14.2 313.3L18.8 311.5L23.4 310.1L28.1 307.4L32.7 305L37.3 302.8L41.9 301L46.5 299.5L51.2 297.9L55.8 296.1L60.4 294.6L65 292.9L69.6 291L74.2 289.2L78.9 287.6L83.5 286.1L88.1 284.5L92.7 282.9L97.3 281.2L101.9 279.7L106.6 277.9L111.2 276L115.8 274.2L120.4 272.1L125 270.3L129.6 268.3L134.3 266.3L138.9 264.3L143.5 262.2L148.1 260.1L152.7 258L157.3 255.9L162 254L166.6 252.3L171.2 250.9L175.8 249.8L180.4 248.3L185 246.8L189.7 245.3L194.3 243.6L198.9 241.8L203.5 240.2L208.1 238.6L212.7 236.8L217.4 235.1L222 233.5L226.6 228L231.2 222.8L235.8 219L240.4 215.8L245.1 211.3L249.7 208.4L254.3 205.5L258.9 202.1L263.5 198.7L268.1 194.8L272.8 191.2L277.4 188.1L282 184.3L286.6 180.9L291.2 177L295.9 172.7L300.5 168.6L305.1 164.4L309.7 160.4L314.3 156.2L318.9 152L323.6 148.3L328.2 144.8L332.8 141.3L337.4 138.1L342 135.3L346.6 132.2L351.3 129.2L355.9 126.2L360.5 123.1L365.1 120.1L369.7 117.2L374.3 114.7L379 111.8L383.6 109.3L388.2 106.4L392.8 103.3L397.4 101L402 99.5L406.7 98L411.3 96.8L415.9 96.3L420.5 96.5L425.1 96.2L429.7 96L434.4 95L439 94.2L443.6 93.6L448.2 95L452.8 96.7L457.4 98L462.1 98.9L466.7 100.9L471.3 103L475.9 104.9L480.5 107.1L485.1 108.6L489.8 110L494.4 111.2L499 112.2L503.6 113.5L508.2 114.8L512.9 116.9L517.5 119.5L522.1 121.7L526.7 123.8L531.3 126L535.9 128.3L540.6 130.9L545.2 132.9L549.8 134.7L554.4 136.7L559 138.1L563.6 138.6L568.3 139L572.9 138.9L577.5 139L582.1 139.2L586.7 139.5L591.3 139.7L596 139.6L600.6 140.6L605.2 140.9L609.8 141.7L614.4 142.3L619 141.5L623.7 140.8L628.3 139.7L632.9 138L637.5 136.1L642.1 133.9L646.7 131.7L651.4 129.4L656 128.2L660.6 126.7L665.2 124.4L669.8 122.1L674.4 119.7L679.1 118L683.7 117L688.3 116.2L692.9 115.2L697.5 114.3L702.1 113.1L706.8 113L711.4 113.1L716 113.4L720.6 113.9L725.2 114.7L729.8 115.6L734.5 116.4L739.1 117.3L743.7 118.2L748.3 119.2L752.9 120L757.6 120.6L762.2 121.5L766.8 121.9L771.4 122.5L776 122.7L780.6 123.2L785.3 124.8L789.9 127L794.5 129.4L799.1 131.7L803.7 134.4L808.3 136.5L813 139L817.6 141.7L822.2 143.9L826.8 146.2L831.4 148.8L836 151.5L840.7 154.5L845.3 157.1L849.9 160.4L854.5 163.7L859.1 166.7L863.7 169.1L868.4 172.1L873 175L877.6 177.6L882.2 180.8"/>
<path class="m" stroke="#0000ff" d="M-4.3 318.5L0.4 316.7L5 316.8L9.6 316.3L14.2 314.8L18.8 313L23.4 311.5L28.1 308.8L32.7 306.3L37.3 304.1L41.9 302.2L46.5 300.5L51.2 298.9L55.8 297L60.4 295.5L65 293.7L69.6 291.9L74.2 290.1L78.9 288.5L83.5 287.1L88.1 285.5L92.7 284L97.3 282.5L101.9 281.1L106.6 279.6L111.2 277.9L115.8 276.2L120.4 274.4L125 272.8L129.6 271L134.3 269.3L138.9 267.3L143.5 265.3L148.1 263.2L152.7 260.9L157.3 258.6L162 256.5L166.6 254.5L171.2 252.9L175.8 251.5L180.4 249.9L185 248.2L189.7 246.6L194.3 244.7L198.9 242.9L203.5 241.4L208.1 239.9L212.7 238.3L217.4 236.8L222 235.4L226.6 231.8L231.2 228L235.8 222.7L240.4 218L245.1 213.7L249.7 209.8L254.3 205.8L258.9 202.9L263.5 200.1L268.1 196.8L272.8 193.5L277.4 190L282 186.4L286.6 183.2L291.2 179L295.9 174.7L300.5 170.9L305.1 167.3L309.7 163.4L314.3 159.3L318.9 155.3L323.6 151.9L328.2 148.7L332.8 145.1L337.4 142L342 139.3L346.6 136.6L351.3 133.9L355.9 131L360.5 128L365.1 124.9L369.7 121.9L374.3 119.2L379 116.2L383.6 113.8L388.2 111.1L392.8 108.2L397.4 106.3L402 104.5L406.7 102.5L411.3 101.1L415.9 100.2L420.5 100.1L425.1 99.9L429.7 99.9L434.4 98.9L439 98.1L443.6 97.9L448.2 97.4L452.8 96.7L457.4 97.9L462.1 99.1L466.7 100.3L471.3 101.5L475.9 103.7L480.5 105.7L485.1 107L489.8 108.5L494.4 109.5L499 110.8L503.6 111.8L508.2 112.8L512.9 114.3L517.5 115.7L522.1 117.9L526.7 120.3L531.3 122.5L535.9 124.6L540.6 127L545.2 129.5L549.8 132L554.4 133.9L559 135.6L563.6 136.7L568.3 137.3L572.9 137.4L577.5 137.6L582.1 137.6L586.7 137.7L591.3 137.8L596 138L600.6 138.6L605.2 139L609.8 139.8L614.4 140L619 139.9L623.7 140.5L628.3 139.7L632.9 138.2L637.5 136.8L642.1 135.6L646.7 133.9L651.4 131.5L656 129.6L660.6 127.6L665.2 126.2L669.8 124.2L674.4 121.8L679.1 120L683.7 118.6L688.3 117.7L692.9 117.1L697.5 116.5L702.1 115.4L706.8 114.8L711.4 114.3L716 114.1L720.6 114.5L725.2 115.2L729.8 116.1L734.5 117.1L739.1 118.1L743.7 119.1L748.3 120L752.9 120.9L757.6 121.6L762.2 122.7L766.8 123.4L771.4 123.9L776 124.1L780.6 124.6L785.3 125.3L789.9 126.6L794.5 128.6L799.1 130.6L803.7 133.2L808.3 135.3L813 137.6L817.6 140.1L822.2 142.7L826.8 145.3L831.4 147.7L836 150.1L840.7 152.2L845.3 154.7L849.9 157.9L854.5 160.1L859.1 162.7L863.7 165.5L868.4 168.4L873 171L877.6 173.7L882.2 176.9"/>
<g fill="#ff0000"><path d="M301 7.6L306 4.6V10.6Z"/><rect x="305" y="7" width="13" height="1.2"/><text transform="translate(319 12.6) scale(0.760 1)" x="0.06 7.92 15.12 22.64 30.17 37.70 45.22 54.23 60.28 67.80 75.33 82.85 92.23 97.91 105.43 114.81 120.49 128.01 137.02 143.06 150.59 159.97 165.64 173.17 182.18">1,34374(2010/12/04-06:30)</text></g>
<g fill="#0000ff"><path d="M10.2 385.6L13 390.5H7.4Z"/><rect x="9.6" y="389" width="1.2" height="9"/><rect x="9.6" y="397" width="7.2" height="1.2"/><text transform="translate(18.3 400.2) scale(0.760 1)" x="0.06 7.92 15.12 22.64 30.17 37.70 45.22 54.23 60.28 67.80 75.33 82.85 92.23 97.91 105.43 114.81 120.49 128.01 137.02 143.06 150.59 159.97 165.64 173.17 182.18">1,30594(2010/12/02-23:00)</text></g>
<rect x="894" y="0" width="3.2" height="185" fill="#ff0000"/><rect x="894" y="185" width="3.2" height="222.4" fill="#0000ff"/>
<g stroke="#000" stroke-width="1">
<line x1="897.2" y1="4.4" x2="899.6" y2="4.4"/>
<line x1="897.2" y1="14.4" x2="898.5" y2="14.4"/>
<line x1="897.2" y1="24.3" x2="898.5" y2="24.3"/>
<line x1="897.2" y1="34.2" x2="898.5" y2="34.2"/>
<line x1="897.2" y1="44.2" x2="899.6" y2="44.2"/>
<line x1="897.2" y1="54.2" x2="898.5" y2="54.2"/>
<line x1="897.2" y1="64.2" x2="898.5" y2="64.2"/>
<line x1="897.2" y1="74.2" x2="898.5" y2="74.2"/>
<line x1="897.2" y1="84.2" x2="899.6" y2="84.2"/>
<line x1="897.2" y1="94.3" x2="898.5" y2="94.3"/>
<line x1="897.2" y1="104.3" x2="898.5" y2="104.3"/>
<line x1="897.2" y1="114.4" x2="898.5" y2="114.4"/>
<line x1="897.2" y1="124.5" x2="899.6" y2="124.5"/>
<line x1="897.2" y1="134.4" x2="898.5" y2="134.4"/>
<line x1="897.2" y1="144.4" x2="898.5" y2="144.4"/>
<line x1="897.2" y1="154.4" x2="898.5" y2="154.4"/>
<line x1="897.2" y1="164.3" x2="899.6" y2="164.3"/>
<line x1="897.2" y1="174.4" x2="898.5" y2="174.4"/>
<line x1="897.2" y1="184.4" x2="898.5" y2="184.4"/>
<line x1="897.2" y1="194.4" x2="898.5" y2="194.4"/>
<line x1="897.2" y1="204.5" x2="899.6" y2="204.5"/>
<line x1="897.2" y1="214.7" x2="898.5" y2="214.7"/>
<line x1="897.2" y1="224.9" x2="898.5" y2="224.9"/>
<line x1="897.2" y1="235.1" x2="898.5" y2="235.1"/>
<line x1="897.2" y1="245.3" x2="899.6" y2="245.3"/>
<line x1="897.2" y1="255.3" x2="898.5" y2="255.3"/>
<line x1="897.2" y1="265.4" x2="898.5" y2="265.4"/>
<line x1="897.2" y1="275.4" x2="898.5" y2="275.4"/>
<line x1="897.2" y1="285.4" x2="899.6" y2="285.4"/>
<line x1="897.2" y1="295.4" x2="898.5" y2="295.4"/>
<line x1="897.2" y1="305.4" x2="898.5" y2="305.4"/>
<line x1="897.2" y1="315.3" x2="898.5" y2="315.3"/>
<line x1="897.2" y1="325.3" x2="899.6" y2="325.3"/>
<line x1="897.2" y1="335.3" x2="898.5" y2="335.3"/>
<line x1="897.2" y1="345.4" x2="898.5" y2="345.4"/>
<line x1="897.2" y1="355.4" x2="898.5" y2="355.4"/>
<line x1="897.2" y1="365.4" x2="899.6" y2="365.4"/>
</g>
<g fill="#000">
<text transform="translate(900 8.3) scale(0.760 1)" x="0.06 7.92 15.12 22.64 30.17 37.70 45.22">1,34400</text>
<text transform="translate(900 48.1) scale(0.760 1)" x="0.06 7.92 15.12 22.64 30.17 37.70 45.22">1,34000</text>
<text transform="translate(900 88.1) scale(0.760 1)" x="0.06 7.92 15.12 22.64 30.17 37.70 45.22">1,33600</text>
<text transform="translate(900 128.4) scale(0.760 1)" x="0.06 7.92 15.12 22.64 30.17 37.70 45.22">1,33200</text>
<text transform="translate(900 168.2) scale(0.760 1)" x="0.06 7.92 15.12 22.64 30.17 37.70 45.22">1,32800</text>
<text transform="translate(900 208.4) scale(0.760 1)" x="0.06 7.92 15.12 22.64 30.17 37.70 45.22">1,32400</text>
<text transform="translate(900 289.3) scale(0.760 1)" x="0.06 7.92 15.12 22.64 30.17 37.70 45.22">1,31600</text>
<text transform="translate(900 329.2) scale(0.760 1)" x="0.06 7.92 15.12 22.64 30.17 37.70 45.22">1,31200</text>
<text transform="translate(900 369.3) scale(0.760 1)" x="0.06 7.92 15.12 22.64 30.17 37.70 45.22">1,30800</text>
</g>
<path d="M897.2 236.7L903.6 223.3H949V249.8H903.6Z" fill="#0000c8"/>
<g fill="#fff"><text transform="translate(907 234.3) scale(0.760 1)" x="0.06 7.92 15.12 22.64 30.17 37.70 45.22">1,32077</text><text transform="translate(906.6 247) scale(0.760 1)" x="1.55 9.44 15.12 22.97 30.17 37.70 45.04">- 0,39<tspan textLength="7.76" lengthAdjust="spacingAndGlyphs">%</tspan></text></g>
<rect x="0" y="406.9" width="949" height="1.15" fill="#2a2a2a"/>
<g stroke="#000" stroke-width="1.1">
<line x1="63.4" y1="407.4" x2="63.4" y2="413.2"/>
<line x1="123.4" y1="407.4" x2="123.4" y2="413.2"/>
<line x1="169.6" y1="407.4" x2="169.6" y2="413.2"/>
<line x1="215.8" y1="407.4" x2="215.8" y2="413.2"/>
<line x1="262" y1="407.4" x2="262" y2="413.2"/>
<line x1="317.4" y1="407.4" x2="317.4" y2="413.2"/>
<line x1="363.5" y1="407.4" x2="363.5" y2="413.2"/>
<line x1="409.7" y1="407.4" x2="409.7" y2="413.2"/>
<line x1="455.9" y1="407.4" x2="455.9" y2="413.2"/>
<line x1="502" y1="407.4" x2="502" y2="413.2"/>
<line x1="548.2" y1="407.4" x2="548.2" y2="413.2"/>
<line x1="594.4" y1="407.4" x2="594.4" y2="413.2"/>
<line x1="640.5" y1="407.4" x2="640.5" y2="413.2"/>
<line x1="695.9" y1="407.4" x2="695.9" y2="413.2"/>
<line x1="742.1" y1="407.4" x2="742.1" y2="413.2"/>
<line x1="788.3" y1="407.4" x2="788.3" y2="413.2"/>
<line x1="834.5" y1="407.4" x2="834.5" y2="413.2"/>
</g>
<g fill="#000">
<text transform="translate(-5 421.6) scale(0.760 1)" x="0.03 7.47 16.77 22.37 29.81 38.75 44.71 52.16 61.46 67.05 74.50">12/02-18:00</text>
<text transform="translate(63.6 421.6) scale(0.760 1)" x="0.03 7.47 16.40 22.37 29.81 39.11 44.71 52.16">03-04:30</text>
<text transform="translate(123.6 421.6) scale(0.760 1)" x="0.03 7.47 16.77 22.37 29.81">11:00</text>
<text transform="translate(169.8 421.6) scale(0.760 1)" x="0.03 7.47 16.77 22.37 29.81">16:00</text>
<text transform="translate(216 421.6) scale(0.760 1)" x="0.03 7.47 16.77 22.37 29.81">21:00</text>
<text transform="translate(262.2 421.6) scale(0.760 1)" x="0.03 7.47 16.77 22.37 29.81">02:00</text>
<text transform="translate(317.6 421.6) scale(0.760 1)" x="0.03 7.47 16.77 22.37 29.81">08:00</text>
<text transform="translate(363.7 421.6) scale(0.760 1)" x="0.03 7.47 16.77 22.37 29.81">13:00</text>
<text transform="translate(409.9 421.6) scale(0.760 1)" x="0.03 7.47 16.77 22.37 29.81">18:00</text>
<text transform="translate(456.1 421.6) scale(0.760 1)" x="0.03 7.47 16.77 22.37 29.81">23:00</text>
<text transform="translate(502.2 421.6) scale(0.760 1)" x="0.03 7.47 16.77 22.37 29.81">04:00</text>
<text transform="translate(548.4 421.6) scale(0.760 1)" x="0.03 7.47 16.77 22.37 29.81">09:00</text>
<text transform="translate(594.6 421.6) scale(0.760 1)" x="0.03 7.47 16.77 22.37 29.81">14:00</text>
<text transform="translate(640.7 421.6) scale(0.760 1)" x="0.03 7.47 16.77 22.37 29.81">19:00</text>
<text transform="translate(696.1 421.6) scale(0.760 1)" x="0.03 7.47 16.77 22.37 29.81">01:00</text>
<text transform="translate(742.3 421.6) scale(0.760 1)" x="0.03 7.47 16.77 22.37 29.81">06:00</text>
<text transform="translate(788.5 421.6) scale(0.760 1)" x="0.03 7.47 16.77 22.37 29.81">11:00</text>
<text transform="translate(834.7 421.6) scale(0.760 1)" x="0.03 7.47 16.77 22.37 29.81">16:00</text>
</g>
</svg></body></html>
